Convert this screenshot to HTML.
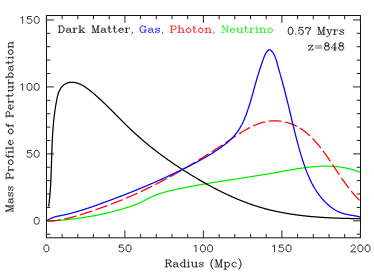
<!DOCTYPE html><html><head><meta charset="utf-8"><style>html,body{margin:0;padding:0;background:#fff}svg{display:block}</style></head><body><svg width="374" height="278" viewBox="0 0 374 278">
<rect width="374" height="278" fill="#fff"/>
<rect x="46.50" y="15.50" width="314.00" height="222.30" fill="none" stroke="#111" stroke-width="1"/>
<path d="M46.40 237.80 v-7.40M46.40 15.50 v7.40M62.10 237.80 v-3.80M62.10 15.50 v3.80M77.80 237.80 v-3.80M77.80 15.50 v3.80M93.50 237.80 v-3.80M93.50 15.50 v3.80M109.20 237.80 v-3.80M109.20 15.50 v3.80M124.90 237.80 v-7.40M124.90 15.50 v7.40M140.60 237.80 v-3.80M140.60 15.50 v3.80M156.30 237.80 v-3.80M156.30 15.50 v3.80M172.00 237.80 v-3.80M172.00 15.50 v3.80M187.70 237.80 v-3.80M187.70 15.50 v3.80M203.40 237.80 v-7.40M203.40 15.50 v7.40M219.10 237.80 v-3.80M219.10 15.50 v3.80M234.80 237.80 v-3.80M234.80 15.50 v3.80M250.50 237.80 v-3.80M250.50 15.50 v3.80M266.20 237.80 v-3.80M266.20 15.50 v3.80M281.90 237.80 v-7.40M281.90 15.50 v7.40M297.60 237.80 v-3.80M297.60 15.50 v3.80M313.30 237.80 v-3.80M313.30 15.50 v3.80M329.00 237.80 v-3.80M329.00 15.50 v3.80M344.70 237.80 v-3.80M344.70 15.50 v3.80M360.40 237.80 v-7.40M360.40 15.50 v7.40M46.50 234.19 h3.80M360.50 234.19 h-3.80M46.50 220.80 h7.40M360.50 220.80 h-7.40M46.50 207.41 h3.80M360.50 207.41 h-3.80M46.50 194.02 h3.80M360.50 194.02 h-3.80M46.50 180.63 h3.80M360.50 180.63 h-3.80M46.50 167.24 h3.80M360.50 167.24 h-3.80M46.50 153.85 h7.40M360.50 153.85 h-7.40M46.50 140.46 h3.80M360.50 140.46 h-3.80M46.50 127.07 h3.80M360.50 127.07 h-3.80M46.50 113.68 h3.80M360.50 113.68 h-3.80M46.50 100.29 h3.80M360.50 100.29 h-3.80M46.50 86.90 h7.40M360.50 86.90 h-7.40M46.50 73.51 h3.80M360.50 73.51 h-3.80M46.50 60.12 h3.80M360.50 60.12 h-3.80M46.50 46.73 h3.80M360.50 46.73 h-3.80M46.50 33.34 h3.80M360.50 33.34 h-3.80M46.50 19.95 h7.40M360.50 19.95 h-7.40" stroke="#222" stroke-width="1" fill="none"/>
<path d="M46.75 221.23L47.25 221.20L47.76 221.18L48.26 221.15L48.76 221.12L49.27 221.09L49.77 221.06L50.27 221.03L50.78 221.00L51.28 220.97L51.78 220.93L52.28 220.90L52.79 220.87L53.29 220.83L53.79 220.80L54.29 220.76L54.79 220.73L55.30 220.69L55.80 220.65L56.30 220.62L56.80 220.58L57.30 220.54L57.80 220.50L58.30 220.46L58.80 220.42L59.30 220.38L59.80 220.33L60.30 220.29L60.80 220.25L61.30 220.20L61.80 220.16L62.30 220.11L62.80 220.07L63.30 220.02L63.80 219.97L64.30 219.92L64.80 219.88L65.30 219.83L65.79 219.78L66.29 219.73L66.79 219.67L67.29 219.62L67.78 219.57L68.28 219.52L68.78 219.46L69.28 219.41L69.77 219.35L70.27 219.30L70.77 219.24L71.26 219.18L71.76 219.13L72.25 219.07L72.75 219.01L73.25 218.95L73.74 218.89L74.24 218.83L74.73 218.76L75.23 218.70L75.72 218.64L76.22 218.57L76.71 218.51L77.21 218.44L77.70 218.38L78.19 218.31L78.69 218.24L79.18 218.17L79.67 218.10L80.17 218.03L80.66 217.96L81.15 217.89L81.64 217.82L82.14 217.75L82.63 217.67L83.12 217.60L83.61 217.53L84.10 217.45L84.60 217.37L85.09 217.30L85.58 217.22L86.07 217.14L86.56 217.06L87.05 216.98L87.54 216.90L88.03 216.82L88.52 216.74L89.01 216.65L89.50 216.57L89.99 216.49L90.48 216.40L90.97 216.31L91.46 216.23L91.94 216.14L92.43 216.05L92.92 215.96L93.41 215.87L93.90 215.78L94.38 215.69L94.87 215.60L95.36 215.51L95.85 215.41L96.33 215.32L96.82 215.22L97.31 215.13L97.79 215.03L98.28 214.93L98.76 214.84L99.25 214.74L99.73 214.64L100.22 214.54L100.70 214.43L101.19 214.33L101.67 214.23L102.16 214.12L102.64 214.02L103.13 213.91L103.61 213.81L104.09 213.70L104.58 213.59L105.06 213.48L105.54 213.38L106.02 213.27L106.51 213.15L106.99 213.04L107.47 212.93L107.95 212.82L108.43 212.70L108.91 212.59L109.40 212.47L109.88 212.35L110.36 212.24L110.84 212.12L111.32 212.00L111.80 211.88L112.28 211.76L112.76 211.63L113.24 211.51L113.72 211.39L114.19 211.26L114.67 211.14L115.15 211.01L115.63 210.88L116.11 210.76L116.59 210.63L117.06 210.50L117.54 210.37L118.02 210.24L118.49 210.10L118.97 209.97L119.45 209.84L119.92 209.70L120.40 209.57L120.88 209.43L121.35 209.29L121.83 209.15L122.30 209.01L122.78 208.87L123.25 208.73L123.72 208.59L124.20 208.45L124.67 208.31L125.15 208.16L125.62 208.02L126.09 207.87L126.57 207.72L127.04 207.57L127.51 207.42L127.98 207.27L128.46 207.12L128.93 206.97L129.40 206.82L129.87 206.66L130.34 206.51L130.81 206.35L131.28 206.19L131.75 206.03L132.22 205.87L132.69 205.70L133.16 205.54L133.63 205.37L134.10 205.19L134.57 205.02L135.04 204.84L135.51 204.66L135.98 204.47L136.45 204.29L136.92 204.10L137.39 203.90L137.85 203.70L138.32 203.50L138.79 203.29L139.26 203.08L139.73 202.87L140.20 202.65L140.66 202.42L141.13 202.20L141.60 201.97L142.07 201.73L142.53 201.50L143.00 201.26L143.47 201.02L143.94 200.78L144.40 200.54L144.87 200.29L145.34 200.05L145.81 199.80L146.27 199.56L146.74 199.32L147.21 199.07L147.68 198.83L148.14 198.59L148.61 198.35L149.08 198.12L149.55 197.88L150.02 197.65L150.48 197.42L150.95 197.20L151.42 196.98L151.89 196.76L152.36 196.55L152.82 196.34L153.29 196.13L153.76 195.93L154.23 195.74L154.70 195.54L155.17 195.35L155.63 195.17L156.10 194.99L156.57 194.81L157.04 194.63L157.51 194.46L157.98 194.29L158.45 194.13L158.92 193.96L159.39 193.80L159.86 193.65L160.33 193.49L160.80 193.34L161.27 193.20L161.74 193.05L162.21 192.91L162.68 192.77L163.15 192.63L163.62 192.49L164.09 192.36L164.56 192.23L165.04 192.10L165.51 191.97L165.98 191.84L166.45 191.72L166.92 191.60L167.40 191.47L167.87 191.36L168.34 191.24L168.82 191.12L169.29 191.01L169.76 190.89L170.24 190.78L170.71 190.67L171.18 190.56L171.66 190.45L172.13 190.34L172.61 190.23L173.08 190.13L173.56 190.02L174.03 189.91L174.51 189.81L174.98 189.70L175.46 189.60L175.94 189.49L176.41 189.39L176.89 189.29L177.37 189.18L177.85 189.08L178.32 188.98L178.80 188.88L179.28 188.78L179.76 188.68L180.24 188.57L180.71 188.48L181.19 188.38L181.67 188.28L182.15 188.18L182.63 188.08L183.11 187.98L183.59 187.88L184.07 187.79L184.55 187.69L185.03 187.60L185.51 187.50L185.99 187.40L186.48 187.31L186.96 187.21L187.44 187.12L187.92 187.03L188.40 186.93L188.89 186.84L189.37 186.75L189.85 186.65L190.33 186.56L190.82 186.47L191.30 186.38L191.78 186.29L192.27 186.20L192.75 186.11L193.24 186.02L193.72 185.93L194.20 185.84L194.69 185.75L195.17 185.66L195.66 185.57L196.14 185.48L196.63 185.40L197.12 185.31L197.60 185.22L198.09 185.13L198.57 185.05L199.06 184.96L199.55 184.87L200.03 184.79L200.52 184.70L201.01 184.62L201.49 184.53L201.98 184.45L202.47 184.36L202.96 184.28L203.45 184.19L203.93 184.11L204.42 184.03L204.91 183.94L205.40 183.86L205.89 183.78L206.38 183.70L206.87 183.61L207.35 183.53L207.84 183.45L208.33 183.37L208.82 183.28L209.31 183.20L209.80 183.12L210.29 183.04L210.78 182.96L211.27 182.88L211.76 182.80L212.25 182.72L212.75 182.64L213.24 182.56L213.73 182.48L214.22 182.40L214.71 182.32L215.20 182.24L215.69 182.16L216.19 182.08L216.68 182.00L217.17 181.92L217.66 181.85L218.15 181.77L218.65 181.69L219.14 181.61L219.63 181.53L220.12 181.45L220.62 181.38L221.11 181.30L221.60 181.22L222.10 181.14L222.59 181.07L223.08 180.99L223.58 180.91L224.07 180.83L224.57 180.76L225.06 180.68L225.55 180.60L226.05 180.53L226.54 180.45L227.04 180.37L227.53 180.30L228.03 180.22L228.52 180.14L229.02 180.07L229.51 179.99L230.01 179.91L230.50 179.84L231.00 179.76L231.49 179.68L231.99 179.61L232.48 179.53L232.98 179.45L233.47 179.38L233.97 179.30L234.47 179.23L234.96 179.15L235.46 179.07L235.95 179.00L236.45 178.92L236.95 178.84L237.44 178.77L237.94 178.69L238.44 178.61L238.93 178.54L239.43 178.46L239.93 178.39L240.42 178.31L240.92 178.23L241.42 178.16L241.92 178.08L242.41 178.00L242.91 177.93L243.41 177.85L243.90 177.77L244.40 177.69L244.90 177.62L245.40 177.54L245.90 177.46L246.39 177.39L246.89 177.31L247.39 177.23L247.89 177.15L248.38 177.08L248.88 177.00L249.38 176.92L249.88 176.84L250.38 176.76L250.88 176.68L251.37 176.61L251.87 176.53L252.37 176.45L252.87 176.37L253.37 176.29L253.87 176.21L254.36 176.13L254.86 176.05L255.36 175.97L255.86 175.89L256.36 175.81L256.86 175.73L257.36 175.65L257.86 175.57L258.35 175.49L258.85 175.41L259.35 175.33L259.85 175.25L260.35 175.17L260.85 175.09L261.35 175.01L261.85 174.92L262.35 174.84L262.85 174.76L263.34 174.68L263.84 174.59L264.34 174.51L264.84 174.43L265.34 174.34L265.84 174.26L266.34 174.18L266.84 174.09L267.34 174.01L267.84 173.92L268.34 173.84L268.84 173.75L269.34 173.67L269.83 173.58L270.33 173.49L270.83 173.41L271.33 173.32L271.83 173.24L272.33 173.15L272.83 173.06L273.33 172.97L273.83 172.88L274.33 172.80L274.83 172.71L275.33 172.62L275.83 172.53L276.32 172.44L276.82 172.35L277.32 172.26L277.82 172.17L278.32 172.08L278.82 171.99L279.32 171.90L279.82 171.81L280.32 171.72L280.82 171.63L281.32 171.54L281.81 171.45L282.31 171.36L282.81 171.27L283.31 171.18L283.81 171.09L284.31 171.00L284.81 170.91L285.31 170.82L285.81 170.73L286.30 170.64L286.80 170.55L287.30 170.46L287.80 170.37L288.30 170.29L288.80 170.20L289.30 170.11L289.79 170.02L290.29 169.94L290.79 169.85L291.29 169.77L291.79 169.68L292.29 169.60L292.78 169.51L293.28 169.43L293.78 169.34L294.28 169.26L294.78 169.18L295.27 169.10L295.77 169.02L296.27 168.94L296.77 168.86L297.26 168.78L297.76 168.70L298.26 168.62L298.76 168.55L299.25 168.47L299.75 168.39L300.25 168.32L300.75 168.25L301.24 168.17L301.74 168.10L302.24 168.03L302.73 167.96L303.23 167.89L303.73 167.82L304.22 167.76L304.72 167.69L305.22 167.63L305.71 167.56L306.21 167.50L306.71 167.44L307.20 167.38L307.70 167.32L308.19 167.26L308.69 167.20L309.19 167.15L309.68 167.09L310.18 167.04L310.67 166.99L311.17 166.94L311.66 166.89L312.16 166.84L312.65 166.79L313.15 166.75L313.64 166.70L314.14 166.66L314.63 166.62L315.13 166.58L315.62 166.54L316.12 166.51L316.61 166.47L317.10 166.44L317.60 166.41L318.09 166.38L318.59 166.35L319.08 166.32L319.57 166.30L320.07 166.27L320.56 166.25L321.05 166.23L321.55 166.21L322.04 166.20L322.53 166.18L323.02 166.17L323.52 166.16L324.01 166.15L324.50 166.14L324.99 166.14L325.49 166.13L325.98 166.13L326.47 166.13L326.96 166.14L327.45 166.14L327.94 166.15L328.43 166.15L328.93 166.17L329.42 166.18L329.91 166.19L330.40 166.21L330.89 166.23L331.38 166.25L331.87 166.28L332.36 166.30L332.85 166.33L333.34 166.36L333.83 166.39L334.32 166.43L334.81 166.47L335.30 166.51L335.79 166.55L336.27 166.59L336.76 166.64L337.25 166.69L337.74 166.74L338.23 166.80L338.72 166.85L339.20 166.91L339.69 166.97L340.18 167.04L340.67 167.11L341.15 167.18L341.64 167.25L342.13 167.32L342.61 167.40L343.10 167.48L343.59 167.57L344.07 167.65L344.56 167.74L345.04 167.83L345.53 167.93L346.02 168.02L346.50 168.13L346.99 168.23L347.47 168.33L347.95 168.44L348.44 168.56L348.92 168.67L349.41 168.79L349.89 168.91L350.37 169.03L350.86 169.16L351.34 169.29L351.82 169.42L352.31 169.56L352.79 169.70L353.27 169.84L353.76 169.99L354.24 170.14L354.72 170.29L355.20 170.45L355.68 170.61L356.16 170.77L356.64 170.93L357.13 171.10L357.61 171.27L358.09 171.45L358.57 171.63L359.05 171.81L359.53 172.00L360.01 172.19" stroke="#00ee00" stroke-width="1.25" fill="none" stroke-linejoin="round"/>
<path d="M46.76 221.09L47.27 221.10L47.77 221.09L48.27 221.09L48.77 221.08L49.27 221.06L49.77 221.05L50.27 221.02L50.77 221.00L51.27 220.97L51.77 220.94L52.27 220.90L52.77 220.87L53.27 220.82L53.77 220.78L54.27 220.73L54.76 220.68L55.26 220.62L55.76 220.56L56.25 220.50L56.75 220.44L57.25 220.37L57.74 220.30L58.24 220.23L58.73 220.15L59.23 220.07L59.72 219.99L60.21 219.90L60.71 219.82L61.20 219.73L61.70 219.64L62.19 219.54L62.68 219.44L63.17 219.35L63.66 219.24L64.16 219.14L64.65 219.03L65.14 218.93L65.63 218.82L66.12 218.70L66.61 218.59L67.10 218.47L67.59 218.36L68.08 218.24L68.56 218.11L69.05 217.99L69.54 217.86L70.03 217.74L70.52 217.61L71.00 217.48L71.49 217.35L71.98 217.22L72.46 217.08L72.95 216.95L73.43 216.81L73.92 216.67L74.41 216.53L74.89 216.39L75.37 216.25L75.86 216.11L76.34 215.96L76.83 215.82L77.31 215.68L77.79 215.53L78.28 215.38L78.76 215.24L79.24 215.09L79.72 214.94L80.20 214.79L80.68 214.64L81.17 214.49L81.65 214.34L82.13 214.19L82.61 214.04L83.09 213.89L83.57 213.73L84.04 213.58L84.52 213.43L85.00 213.28L85.48 213.12L85.96 212.97L86.44 212.81L86.91 212.66L87.39 212.51L87.87 212.35L88.35 212.19L88.82 212.04L89.30 211.88L89.77 211.73L90.25 211.57L90.72 211.41L91.20 211.25L91.67 211.10L92.15 210.94L92.62 210.78L93.10 210.62L93.57 210.46L94.04 210.30L94.52 210.14L94.99 209.98L95.46 209.82L95.94 209.65L96.41 209.49L96.88 209.33L97.35 209.17L97.82 209.00L98.29 208.84L98.76 208.67L99.23 208.51L99.70 208.35L100.17 208.18L100.64 208.01L101.11 207.85L101.58 207.68L102.05 207.51L102.52 207.35L102.99 207.18L103.46 207.01L103.93 206.84L104.39 206.67L104.86 206.50L105.33 206.33L105.79 206.16L106.26 205.99L106.73 205.82L107.19 205.65L107.66 205.47L108.12 205.30L108.59 205.13L109.06 204.95L109.52 204.78L109.98 204.60L110.45 204.43L110.91 204.25L111.38 204.08L111.84 203.90L112.30 203.72L112.77 203.54L113.23 203.37L113.69 203.19L114.16 203.01L114.62 202.83L115.08 202.65L115.54 202.47L116.00 202.29L116.46 202.11L116.93 201.92L117.39 201.74L117.85 201.56L118.31 201.37L118.77 201.19L119.23 201.01L119.69 200.82L120.15 200.63L120.61 200.45L121.06 200.26L121.52 200.08L121.98 199.89L122.44 199.70L122.90 199.51L123.36 199.32L123.81 199.13L124.27 198.94L124.73 198.75L125.18 198.56L125.64 198.37L126.10 198.18L126.55 197.98L127.01 197.79L127.47 197.59L127.92 197.40L128.38 197.21L128.83 197.01L129.29 196.81L129.74 196.62L130.20 196.42L130.65 196.22L131.10 196.02L131.56 195.82L132.01 195.62L132.47 195.42L132.92 195.22L133.37 195.02L133.82 194.82L134.28 194.62L134.73 194.42L135.18 194.21L135.63 194.01L136.08 193.81L136.54 193.60L136.99 193.40L137.44 193.19L137.89 192.98L138.34 192.78L138.79 192.57L139.24 192.36L139.69 192.15L140.14 191.94L140.59 191.74L141.04 191.53L141.49 191.31L141.94 191.10L142.39 190.89L142.84 190.68L143.28 190.47L143.73 190.26L144.18 190.04L144.63 189.83L145.08 189.61L145.52 189.40L145.97 189.18L146.42 188.97L146.87 188.75L147.31 188.53L147.76 188.32L148.21 188.10L148.65 187.88L149.10 187.66L149.54 187.44L149.99 187.22L150.43 187.00L150.88 186.78L151.32 186.56L151.77 186.34L152.21 186.12L152.66 185.89L153.10 185.67L153.55 185.45L153.99 185.22L154.44 185.00L154.88 184.77L155.32 184.55L155.77 184.32L156.21 184.09L156.65 183.87L157.09 183.64L157.54 183.41L157.98 183.18L158.42 182.96L158.86 182.73L159.31 182.50L159.75 182.27L160.19 182.04L160.63 181.81L161.07 181.57L161.51 181.34L161.95 181.11L162.39 180.88L162.83 180.64L163.27 180.41L163.72 180.18L164.16 179.94L164.59 179.71L165.03 179.47L165.47 179.24L165.91 179.00L166.35 178.76L166.79 178.53L167.23 178.29L167.67 178.05L168.11 177.81L168.55 177.57L168.98 177.33L169.42 177.10L169.86 176.86L170.30 176.61L170.74 176.37L171.17 176.13L171.61 175.89L172.05 175.65L172.49 175.41L172.92 175.16L173.36 174.92L173.80 174.68L174.23 174.43L174.67 174.19L175.10 173.94L175.54 173.70L175.98 173.45L176.41 173.21L176.85 172.96L177.28 172.71L177.72 172.47L178.15 172.22L178.59 171.97L179.02 171.72L179.46 171.47L179.89 171.22L180.33 170.97L180.76 170.72L181.20 170.47L181.63 170.22L182.06 169.97L182.50 169.72L182.93 169.47L183.36 169.22L183.80 168.96L184.23 168.71L184.66 168.46L185.10 168.20L185.53 167.95L185.96 167.70L186.40 167.44L186.83 167.19L187.26 166.93L187.69 166.67L188.12 166.42L188.56 166.16L188.99 165.90L189.42 165.65L189.85 165.39L190.28 165.13L190.71 164.87L191.15 164.62L191.58 164.36L192.01 164.10L192.44 163.84L192.87 163.58L193.30 163.32L193.73 163.06L194.16 162.80L194.59 162.53L195.02 162.27L195.45 162.01L195.88 161.75L196.31 161.48L196.74 161.22L197.17 160.96L197.60 160.69L198.03 160.43L198.46 160.17L198.89 159.90L199.32 159.64L199.74 159.37L200.17 159.11L200.60 158.84L201.03 158.57L201.46 158.31L201.89 158.04L202.32 157.77L202.74 157.51L203.17 157.24L203.60 156.97L204.03 156.70L204.46 156.43L204.88 156.16L205.31 155.90L205.74 155.63L206.17 155.36L206.59 155.09L207.02 154.82L207.45 154.54L207.87 154.27L208.30 154.00L208.73 153.73L209.15 153.46L209.58 153.19L210.01 152.91L210.43 152.64L210.86 152.37L211.29 152.09L211.71 151.82L212.14 151.55L212.56 151.27L212.99 151.00L213.42 150.72L213.84 150.45L214.27 150.17L214.69 149.90L215.12 149.62L215.54 149.35L215.97 149.07L216.40 148.79L216.82 148.52L217.25 148.24L217.67 147.96L218.10 147.69L218.52 147.41L218.94 147.13L219.37 146.85L219.79 146.57L220.22 146.29L220.64 146.01L221.07 145.74L221.49 145.46L221.92 145.18L222.34 144.90L222.76 144.62L223.19 144.34L223.61 144.05L224.04 143.77L224.46 143.49L224.88 143.21L225.31 142.93L225.73 142.65L226.15 142.37L226.58 142.08L227.00 141.80L227.42 141.52L227.85 141.23L228.27 140.95L228.69 140.67L229.12 140.38L229.54 140.10L229.96 139.82L230.39 139.53L230.81 139.25L231.23 138.97L231.66 138.68L232.08 138.40L232.50 138.12L232.93 137.83L233.35 137.55L233.77 137.27L234.20 136.99L234.62 136.71L235.04 136.43L235.47 136.15L235.89 135.87L236.32 135.59L236.74 135.32L237.17 135.04L237.59 134.77L238.02 134.49L238.44 134.22L238.87 133.95L239.29 133.68L239.72 133.41L240.15 133.14L240.57 132.87L241.00 132.61L241.43 132.34L241.85 132.08L242.28 131.82L242.71 131.56L243.14 131.31L243.57 131.05L244.00 130.80L244.43 130.54L244.86 130.29L245.29 130.05L245.72 129.80L246.15 129.56L246.58 129.31L247.02 129.07L247.45 128.84L247.88 128.60L248.32 128.37L248.75 128.14L249.19 127.91L249.63 127.68L250.06 127.46L250.50 127.24L250.94 127.02L251.37 126.81L251.81 126.60L252.25 126.39L252.69 126.18L253.13 125.98L253.58 125.78L254.02 125.58L254.46 125.39L254.91 125.20L255.35 125.01L255.80 124.83L256.24 124.64L256.69 124.47L257.14 124.29L257.58 124.12L258.03 123.96L258.48 123.79L258.93 123.63L259.39 123.48L259.84 123.32L260.29 123.18L260.75 123.03L261.20 122.89L261.66 122.76L262.11 122.62L262.57 122.50L263.03 122.37L263.49 122.25L263.95 122.14L264.41 122.03L264.88 121.92L265.34 121.82L265.81 121.72L266.27 121.63L266.74 121.54L267.21 121.45L267.68 121.37L268.15 121.30L268.62 121.23L269.09 121.17L269.56 121.11L270.04 121.05L270.51 121.00L270.99 120.96L271.47 120.92L271.95 120.89L272.43 120.86L272.91 120.84L273.39 120.82L273.88 120.81L274.36 120.80L274.85 120.80L275.34 120.80L275.83 120.81L276.32 120.83L276.81 120.85L277.30 120.88L277.80 120.91L278.29 120.95L278.79 121.00L279.29 121.05L279.79 121.10L280.29 121.17L280.79 121.24L281.29 121.31L281.79 121.39L282.29 121.47L282.79 121.56L283.29 121.66L283.80 121.76L284.30 121.87L284.80 121.98L285.30 122.09L285.80 122.22L286.30 122.34L286.80 122.48L287.30 122.61L287.79 122.76L288.29 122.90L288.78 123.06L289.28 123.21L289.77 123.38L290.26 123.54L290.75 123.72L291.23 123.89L291.72 124.07L292.20 124.26L292.68 124.45L293.16 124.65L293.63 124.85L294.11 125.05L294.58 125.26L295.04 125.47L295.51 125.69L295.97 125.91L296.43 126.14L296.89 126.37L297.34 126.60L297.79 126.84L298.23 127.08L298.67 127.33L299.11 127.58L299.54 127.84L299.97 128.10L300.40 128.36L300.82 128.62L301.24 128.90L301.65 129.17L302.06 129.45L302.47 129.73L302.87 130.01L303.27 130.30L303.67 130.59L304.06 130.89L304.45 131.18L304.84 131.48L305.22 131.79L305.60 132.09L305.98 132.40L306.36 132.72L306.73 133.03L307.10 133.35L307.47 133.67L307.84 133.99L308.20 134.32L308.56 134.64L308.92 134.97L309.28 135.30L309.64 135.64L309.99 135.98L310.35 136.31L310.70 136.65L311.05 137.00L311.40 137.34L311.75 137.69L312.09 138.04L312.44 138.39L312.78 138.74L313.12 139.10L313.46 139.45L313.79 139.81L314.13 140.17L314.46 140.53L314.80 140.90L315.13 141.26L315.46 141.63L315.79 142.00L316.12 142.37L316.44 142.74L316.77 143.12L317.09 143.49L317.41 143.87L317.73 144.25L318.05 144.63L318.37 145.01L318.69 145.40L319.00 145.78L319.32 146.17L319.63 146.56L319.94 146.95L320.25 147.34L320.57 147.73L320.87 148.12L321.18 148.52L321.49 148.91L321.80 149.31L322.10 149.71L322.40 150.11L322.71 150.51L323.01 150.91L323.31 151.31L323.61 151.72L323.91 152.12L324.21 152.53L324.51 152.93L324.80 153.34L325.10 153.75L325.40 154.16L325.69 154.57L325.99 154.98L326.28 155.39L326.57 155.81L326.86 156.22L327.15 156.63L327.45 157.05L327.74 157.47L328.03 157.88L328.31 158.30L328.60 158.72L328.89 159.14L329.18 159.56L329.47 159.98L329.75 160.40L330.04 160.82L330.32 161.24L330.61 161.66L330.89 162.08L331.18 162.50L331.46 162.93L331.75 163.35L332.03 163.77L332.31 164.20L332.60 164.62L332.88 165.04L333.16 165.47L333.45 165.89L333.73 166.32L334.01 166.74L334.29 167.17L334.57 167.59L334.86 168.02L335.14 168.44L335.42 168.87L335.70 169.29L335.98 169.71L336.26 170.14L336.55 170.56L336.83 170.99L337.11 171.41L337.39 171.84L337.67 172.26L337.96 172.68L338.24 173.11L338.52 173.53L338.81 173.95L339.09 174.37L339.37 174.80L339.66 175.22L339.94 175.64L340.22 176.06L340.51 176.48L340.79 176.90L341.08 177.32L341.36 177.74L341.65 178.15L341.94 178.57L342.22 178.99L342.51 179.40L342.80 179.82L343.09 180.23L343.38 180.65L343.67 181.06L343.96 181.47L344.25 181.88L344.54 182.29L344.83 182.70L345.12 183.11L345.41 183.52L345.71 183.93L346.00 184.33L346.30 184.74L346.60 185.14L346.89 185.54L347.19 185.94L347.49 186.34L347.79 186.74L348.09 187.14L348.39 187.54L348.69 187.93L348.99 188.33L349.30 188.72L349.60 189.11L349.91 189.50L350.22 189.89L350.52 190.28L350.83 190.66L351.14 191.05L351.45 191.43L351.77 191.81L352.08 192.19L352.39 192.57L352.71 192.95L353.03 193.33L353.34 193.70L353.66 194.07L353.98 194.44L354.31 194.81L354.63 195.18L354.95 195.54L355.28 195.91L355.61 196.27L355.93 196.63L356.26 196.99L356.60 197.34L356.93 197.70L357.26 198.05L357.60 198.40L357.94 198.75L358.27 199.09L358.61 199.44L358.96 199.78L359.30 200.12L359.64 200.46L359.99 200.79" stroke="#ff0000" stroke-width="1.25" fill="none" stroke-dasharray="12.7 3.6" stroke-dashoffset="-1.3" stroke-linejoin="round"/>
<path d="M48.67 206.51L48.74 206.00L48.80 205.50L48.86 204.99L48.92 204.48L48.99 203.98L49.04 203.47L49.10 202.97L49.16 202.46L49.22 201.95L49.27 201.45L49.32 200.94L49.38 200.44L49.43 199.93L49.48 199.43L49.53 198.93L49.58 198.42L49.63 197.92L49.68 197.42L49.72 196.91L49.77 196.41L49.81 195.91L49.86 195.40L49.90 194.90L49.95 194.40L49.99 193.90L50.03 193.39L50.07 192.89L50.11 192.39L50.15 191.89L50.18 191.39L50.22 190.89L50.26 190.39L50.29 189.89L50.33 189.39L50.36 188.89L50.40 188.39L50.43 187.89L50.46 187.39L50.50 186.89L50.53 186.39L50.56 185.89L50.59 185.39L50.62 184.89L50.65 184.39L50.67 183.89L50.70 183.39L50.73 182.89L50.76 182.40L50.78 181.90L50.81 181.40L50.83 180.90L50.86 180.40L50.88 179.91L50.91 179.41L50.93 178.91L50.95 178.41L50.97 177.92L51.00 177.42L51.02 176.92L51.04 176.43L51.06 175.93L51.08 175.43L51.10 174.94L51.12 174.44L51.14 173.94L51.16 173.45L51.18 172.95L51.20 172.45L51.21 171.96L51.23 171.46L51.25 170.97L51.27 170.47L51.28 169.98L51.30 169.48L51.32 168.98L51.33 168.49L51.35 167.99L51.37 167.50L51.38 167.00L51.40 166.51L51.41 166.01L51.43 165.52L51.44 165.02L51.46 164.53L51.47 164.03L51.49 163.54L51.50 163.05L51.52 162.55L51.53 162.06L51.55 161.56L51.56 161.07L51.58 160.57L51.59 160.08L51.61 159.58L51.62 159.09L51.64 158.60L51.65 158.10L51.67 157.61L51.68 157.11L51.70 156.62L51.71 156.13L51.73 155.63L51.74 155.14L51.76 154.64L51.77 154.15L51.79 153.66L51.80 153.16L51.82 152.67L51.83 152.17L51.85 151.68L51.87 151.19L51.88 150.69L51.90 150.20L51.92 149.70L51.93 149.21L51.95 148.72L51.97 148.22L51.99 147.73L52.01 147.23L52.03 146.74L52.04 146.25L52.06 145.75L52.08 145.26L52.10 144.76L52.12 144.27L52.14 143.78L52.16 143.28L52.19 142.79L52.21 142.29L52.23 141.80L52.25 141.31L52.28 140.81L52.30 140.32L52.32 139.82L52.35 139.33L52.37 138.83L52.40 138.34L52.42 137.84L52.45 137.35L52.48 136.86L52.51 136.36L52.53 135.87L52.56 135.37L52.59 134.88L52.62 134.38L52.65 133.89L52.68 133.39L52.71 132.90L52.75 132.40L52.78 131.90L52.81 131.41L52.85 130.91L52.88 130.42L52.92 129.92L52.95 129.43L52.99 128.93L53.03 128.43L53.07 127.94L53.11 127.44L53.15 126.95L53.19 126.45L53.23 125.95L53.27 125.46L53.31 124.96L53.36 124.46L53.40 123.97L53.45 123.47L53.49 122.97L53.54 122.47L53.59 121.98L53.64 121.48L53.69 120.98L53.74 120.48L53.79 119.99L53.84 119.49L53.90 118.99L53.95 118.49L54.01 117.99L54.06 117.49L54.12 116.99L54.18 116.50L54.24 116.00L54.30 115.50L54.36 115.00L54.43 114.50L54.49 114.00L54.55 113.50L54.62 113.00L54.69 112.50L54.75 112.00L54.82 111.50L54.89 111.00L54.97 110.50L55.04 110.00L55.11 109.49L55.19 108.99L55.26 108.49L55.34 107.99L55.42 107.49L55.50 106.99L55.58 106.48L55.66 105.98L55.75 105.48L55.83 104.98L55.92 104.47L56.00 103.97L56.09 103.47L56.18 102.96L56.27 102.46L56.37 101.95L56.46 101.45L56.56 100.94L56.65 100.44L56.75 99.94L56.85 99.43L56.95 98.92L57.05 98.42L57.16 97.92L57.27 97.41L57.38 96.91L57.50 96.41L57.62 95.91L57.75 95.41L57.88 94.92L58.02 94.43L58.16 93.94L58.31 93.46L58.47 92.98L58.64 92.51L58.82 92.04L59.01 91.57L59.20 91.11L59.41 90.66L59.63 90.21L59.86 89.77L60.10 89.34L60.35 88.91L60.62 88.49L60.90 88.08L61.19 87.68L61.50 87.28L61.83 86.90L62.16 86.52L62.52 86.16L62.88 85.80L63.26 85.46L63.65 85.13L64.05 84.82L64.46 84.52L64.88 84.24L65.31 83.97L65.74 83.72L66.19 83.49L66.64 83.28L67.09 83.09L67.55 82.92L68.02 82.77L68.49 82.64L68.96 82.54L69.43 82.45L69.90 82.39L70.38 82.34L70.85 82.30L71.32 82.28L71.79 82.28L72.26 82.28L72.73 82.30L73.20 82.33L73.66 82.38L74.13 82.44L74.59 82.50L75.05 82.59L75.51 82.68L75.97 82.78L76.42 82.90L76.88 83.02L77.33 83.16L77.78 83.30L78.23 83.46L78.68 83.62L79.13 83.80L79.58 83.98L80.02 84.18L80.47 84.38L80.91 84.59L81.35 84.81L81.79 85.03L82.23 85.26L82.67 85.50L83.10 85.75L83.54 86.01L83.97 86.27L84.40 86.54L84.83 86.81L85.26 87.09L85.69 87.37L86.11 87.66L86.54 87.96L86.96 88.26L87.38 88.56L87.80 88.87L88.22 89.18L88.64 89.50L89.05 89.81L89.47 90.14L89.88 90.46L90.29 90.79L90.70 91.12L91.11 91.45L91.52 91.78L91.92 92.12L92.33 92.46L92.73 92.79L93.13 93.13L93.53 93.47L93.93 93.81L94.33 94.15L94.72 94.49L95.12 94.83L95.51 95.18L95.90 95.52L96.29 95.86L96.68 96.21L97.07 96.55L97.46 96.89L97.84 97.24L98.23 97.58L98.61 97.93L98.99 98.28L99.37 98.62L99.75 98.97L100.13 99.32L100.51 99.67L100.89 100.01L101.26 100.36L101.64 100.71L102.01 101.06L102.38 101.41L102.76 101.76L103.13 102.11L103.50 102.46L103.87 102.81L104.23 103.16L104.60 103.52L104.97 103.87L105.33 104.22L105.70 104.57L106.06 104.92L106.42 105.28L106.79 105.63L107.15 105.98L107.51 106.33L107.87 106.69L108.23 107.04L108.59 107.40L108.95 107.75L109.31 108.10L109.66 108.46L110.02 108.81L110.37 109.16L110.73 109.52L111.09 109.87L111.44 110.23L111.79 110.58L112.15 110.94L112.50 111.29L112.85 111.64L113.21 112.00L113.56 112.35L113.91 112.71L114.26 113.06L114.61 113.42L114.96 113.77L115.31 114.12L115.66 114.48L116.01 114.83L116.36 115.18L116.71 115.54L117.06 115.89L117.41 116.24L117.76 116.60L118.10 116.95L118.45 117.30L118.80 117.66L119.15 118.01L119.50 118.36L119.85 118.71L120.19 119.06L120.54 119.41L120.89 119.76L121.24 120.12L121.59 120.47L121.93 120.82L122.28 121.17L122.63 121.51L122.98 121.86L123.33 122.21L123.68 122.56L124.03 122.91L124.38 123.26L124.73 123.60L125.08 123.95L125.43 124.30L125.78 124.64L126.13 124.99L126.48 125.33L126.83 125.68L127.18 126.02L127.53 126.37L127.88 126.71L128.24 127.05L128.59 127.39L128.94 127.73L129.30 128.08L129.65 128.42L130.01 128.76L130.36 129.09L130.72 129.43L131.08 129.77L131.43 130.11L131.79 130.45L132.15 130.78L132.51 131.12L132.87 131.45L133.23 131.79L133.59 132.12L133.95 132.45L134.31 132.79L134.68 133.12L135.04 133.45L135.40 133.78L135.77 134.11L136.13 134.44L136.50 134.77L136.86 135.10L137.23 135.43L137.59 135.75L137.96 136.08L138.33 136.41L138.70 136.73L139.07 137.06L139.43 137.38L139.80 137.71L140.17 138.03L140.55 138.35L140.92 138.67L141.29 139.00L141.66 139.32L142.03 139.64L142.41 139.96L142.78 140.28L143.16 140.60L143.53 140.91L143.91 141.23L144.28 141.55L144.66 141.87L145.04 142.18L145.41 142.50L145.79 142.81L146.17 143.13L146.55 143.44L146.93 143.75L147.31 144.07L147.69 144.38L148.07 144.69L148.45 145.00L148.83 145.31L149.22 145.62L149.60 145.93L149.98 146.24L150.37 146.55L150.75 146.86L151.14 147.17L151.52 147.47L151.91 147.78L152.30 148.09L152.68 148.39L153.07 148.70L153.46 149.00L153.85 149.30L154.24 149.61L154.63 149.91L155.02 150.21L155.41 150.51L155.80 150.81L156.19 151.12L156.58 151.42L156.97 151.72L157.37 152.01L157.76 152.31L158.15 152.61L158.55 152.91L158.94 153.21L159.34 153.50L159.73 153.80L160.13 154.09L160.53 154.39L160.93 154.68L161.32 154.98L161.72 155.27L162.12 155.57L162.52 155.86L162.92 156.15L163.32 156.44L163.72 156.73L164.12 157.02L164.52 157.31L164.92 157.60L165.33 157.89L165.73 158.18L166.13 158.47L166.54 158.76L166.94 159.05L167.34 159.33L167.75 159.62L168.15 159.91L168.56 160.19L168.97 160.48L169.37 160.76L169.78 161.04L170.19 161.33L170.60 161.61L171.01 161.89L171.42 162.18L171.82 162.46L172.23 162.74L172.65 163.02L173.06 163.30L173.47 163.58L173.88 163.86L174.29 164.14L174.70 164.42L175.12 164.70L175.53 164.97L175.94 165.25L176.36 165.53L176.77 165.80L177.19 166.08L177.60 166.36L178.02 166.63L178.44 166.90L178.85 167.18L179.27 167.45L179.69 167.73L180.11 168.00L180.53 168.27L180.95 168.54L181.36 168.81L181.78 169.09L182.20 169.36L182.63 169.63L183.05 169.90L183.47 170.17L183.89 170.43L184.31 170.70L184.74 170.97L185.16 171.24L185.58 171.51L186.01 171.77L186.43 172.04L186.86 172.31L187.28 172.57L187.71 172.84L188.13 173.10L188.56 173.37L188.99 173.63L189.41 173.89L189.84 174.16L190.27 174.42L190.70 174.68L191.13 174.94L191.55 175.21L191.98 175.47L192.41 175.73L192.84 175.99L193.28 176.25L193.71 176.51L194.14 176.77L194.57 177.03L195.00 177.28L195.44 177.54L195.87 177.80L196.30 178.06L196.74 178.31L197.17 178.57L197.60 178.83L198.04 179.08L198.47 179.34L198.91 179.59L199.35 179.85L199.78 180.10L200.22 180.35L200.66 180.61L201.09 180.86L201.53 181.11L201.97 181.36L202.41 181.61L202.85 181.86L203.29 182.11L203.73 182.36L204.17 182.61L204.61 182.86L205.05 183.11L205.49 183.36L205.93 183.60L206.37 183.85L206.82 184.10L207.26 184.34L207.70 184.59L208.15 184.83L208.59 185.07L209.03 185.32L209.48 185.56L209.92 185.80L210.37 186.04L210.81 186.28L211.26 186.52L211.71 186.76L212.15 187.00L212.60 187.24L213.05 187.48L213.49 187.71L213.94 187.95L214.39 188.19L214.84 188.42L215.29 188.66L215.74 188.89L216.19 189.12L216.64 189.35L217.09 189.59L217.54 189.82L217.99 190.05L218.44 190.28L218.89 190.51L219.34 190.73L219.80 190.96L220.25 191.19L220.70 191.41L221.15 191.64L221.61 191.86L222.06 192.09L222.52 192.31L222.97 192.53L223.43 192.75L223.88 192.97L224.34 193.19L224.79 193.41L225.25 193.63L225.71 193.85L226.16 194.07L226.62 194.28L227.08 194.50L227.53 194.71L227.99 194.92L228.45 195.14L228.91 195.35L229.37 195.56L229.83 195.77L230.29 195.98L230.75 196.19L231.21 196.40L231.67 196.60L232.13 196.81L232.59 197.01L233.05 197.22L233.51 197.42L233.97 197.62L234.44 197.82L234.90 198.02L235.36 198.22L235.82 198.42L236.29 198.62L236.75 198.81L237.22 199.01L237.68 199.21L238.14 199.40L238.61 199.59L239.07 199.78L239.54 199.97L240.00 200.16L240.47 200.35L240.94 200.54L241.40 200.73L241.87 200.91L242.34 201.10L242.80 201.28L243.27 201.46L243.74 201.65L244.21 201.83L244.68 202.01L245.15 202.19L245.61 202.36L246.08 202.54L246.55 202.72L247.02 202.89L247.49 203.06L247.96 203.23L248.43 203.41L248.90 203.58L249.38 203.74L249.85 203.91L250.32 204.08L250.79 204.24L251.26 204.41L251.73 204.57L252.21 204.73L252.68 204.90L253.15 205.06L253.63 205.21L254.10 205.37L254.57 205.53L255.05 205.68L255.52 205.84L256.00 205.99L256.47 206.14L256.95 206.29L257.42 206.44L257.90 206.59L258.37 206.74L258.85 206.88L259.33 207.03L259.80 207.17L260.28 207.31L260.76 207.45L261.23 207.59L261.71 207.73L262.19 207.87L262.67 208.00L263.15 208.14L263.62 208.27L264.10 208.40L264.58 208.53L265.06 208.66L265.54 208.79L266.02 208.92L266.50 209.05L266.98 209.17L267.46 209.30L267.94 209.42L268.42 209.54L268.90 209.66L269.38 209.78L269.86 209.90L270.35 210.02L270.83 210.14L271.31 210.25L271.79 210.37L272.27 210.48L272.76 210.59L273.24 210.71L273.72 210.82L274.21 210.93L274.69 211.03L275.17 211.14L275.66 211.25L276.14 211.35L276.62 211.46L277.11 211.56L277.59 211.66L278.08 211.76L278.56 211.86L279.05 211.96L279.53 212.06L280.02 212.16L280.51 212.25L280.99 212.35L281.48 212.44L281.96 212.53L282.45 212.63L282.94 212.72L283.42 212.81L283.91 212.90L284.40 212.99L284.89 213.07L285.37 213.16L285.86 213.24L286.35 213.33L286.84 213.41L287.33 213.50L287.82 213.58L288.30 213.66L288.79 213.74L289.28 213.82L289.77 213.90L290.26 213.97L290.75 214.05L291.24 214.13L291.73 214.20L292.22 214.28L292.71 214.35L293.20 214.42L293.69 214.49L294.18 214.56L294.67 214.63L295.17 214.70L295.66 214.77L296.15 214.84L296.64 214.90L297.13 214.97L297.62 215.04L298.12 215.10L298.61 215.16L299.10 215.23L299.59 215.29L300.09 215.35L300.58 215.41L301.07 215.47L301.56 215.53L302.06 215.59L302.55 215.64L303.04 215.70L303.54 215.76L304.03 215.81L304.53 215.87L305.02 215.92L305.51 215.97L306.01 216.02L306.50 216.08L307.00 216.13L307.49 216.18L307.99 216.23L308.48 216.28L308.98 216.32L309.47 216.37L309.97 216.42L310.47 216.46L310.96 216.51L311.46 216.55L311.95 216.60L312.45 216.64L312.95 216.69L313.44 216.73L313.94 216.77L314.44 216.81L314.93 216.85L315.43 216.89L315.93 216.93L316.42 216.97L316.92 217.01L317.42 217.05L317.92 217.08L318.41 217.12L318.91 217.16L319.41 217.19L319.91 217.23L320.40 217.26L320.90 217.29L321.40 217.33L321.90 217.36L322.40 217.39L322.90 217.42L323.39 217.45L323.89 217.48L324.39 217.51L324.89 217.54L325.39 217.57L325.89 217.60L326.39 217.63L326.89 217.66L327.39 217.68L327.89 217.71L328.39 217.74L328.89 217.76L329.39 217.79L329.89 217.81L330.39 217.84L330.89 217.86L331.39 217.89L331.89 217.91L332.39 217.93L332.89 217.95L333.39 217.98L333.89 218.00L334.39 218.02L334.89 218.04L335.39 218.06L335.89 218.08L336.39 218.10L336.89 218.12L337.40 218.14L337.90 218.16L338.40 218.17L338.90 218.19L339.40 218.21L339.90 218.23L340.40 218.24L340.91 218.26L341.41 218.27L341.91 218.29L342.41 218.31L342.91 218.32L343.41 218.34L343.92 218.35L344.42 218.36L344.92 218.38L345.42 218.39L345.92 218.41L346.43 218.42L346.93 218.43L347.43 218.44L347.93 218.46L348.44 218.47L348.94 218.48L349.44 218.49L349.94 218.50L350.45 218.52L350.95 218.53L351.45 218.54L351.96 218.55L352.46 218.56L352.96 218.57L353.46 218.58L353.97 218.59L354.47 218.60L354.97 218.61L355.48 218.62L355.98 218.63L356.48 218.63L356.99 218.64L357.49 218.65L357.99 218.66L358.50 218.67L359.00 218.68L359.50 218.68L360.01 218.69" stroke="#000" stroke-width="1.25" fill="none" stroke-linejoin="round"/>
<path d="M46.76 220.87L47.17 220.56L47.58 220.25L48.00 219.96L48.43 219.69L48.85 219.42L49.29 219.17L49.72 218.93L50.16 218.70L50.61 218.48L51.06 218.28L51.51 218.08L51.97 217.89L52.43 217.71L52.89 217.54L53.36 217.38L53.83 217.23L54.30 217.08L54.78 216.94L55.25 216.81L55.73 216.68L56.21 216.55L56.70 216.43L57.18 216.32L57.67 216.21L58.16 216.10L58.65 216.00L59.14 215.89L59.63 215.79L60.12 215.69L60.61 215.59L61.10 215.50L61.59 215.40L62.09 215.30L62.58 215.20L63.07 215.10L63.56 215.00L64.05 214.89L64.54 214.79L65.03 214.68L65.52 214.57L66.01 214.46L66.50 214.35L66.99 214.24L67.48 214.12L67.97 214.01L68.45 213.89L68.94 213.77L69.43 213.65L69.91 213.53L70.40 213.41L70.88 213.28L71.37 213.16L71.85 213.03L72.34 212.90L72.82 212.77L73.30 212.64L73.79 212.51L74.27 212.38L74.75 212.25L75.23 212.11L75.71 211.98L76.20 211.84L76.68 211.70L77.16 211.56L77.64 211.42L78.12 211.28L78.60 211.14L79.08 210.99L79.56 210.85L80.03 210.70L80.51 210.56L80.99 210.41L81.47 210.26L81.95 210.11L82.42 209.96L82.90 209.81L83.38 209.66L83.85 209.51L84.33 209.36L84.81 209.20L85.28 209.05L85.76 208.89L86.23 208.74L86.71 208.58L87.18 208.42L87.66 208.26L88.13 208.10L88.61 207.95L89.08 207.79L89.55 207.62L90.03 207.46L90.50 207.30L90.97 207.14L91.45 206.98L91.92 206.81L92.39 206.65L92.86 206.48L93.34 206.32L93.81 206.15L94.28 205.99L94.75 205.82L95.22 205.65L95.69 205.49L96.17 205.32L96.64 205.15L97.11 204.98L97.58 204.82L98.05 204.65L98.52 204.48L98.99 204.31L99.46 204.14L99.93 203.97L100.40 203.80L100.87 203.63L101.34 203.46L101.81 203.29L102.28 203.12L102.75 202.95L103.22 202.78L103.69 202.60L104.16 202.43L104.62 202.26L105.09 202.09L105.56 201.92L106.03 201.75L106.50 201.57L106.97 201.40L107.44 201.23L107.90 201.05L108.37 200.88L108.84 200.71L109.31 200.53L109.78 200.36L110.24 200.18L110.71 200.01L111.18 199.84L111.64 199.66L112.11 199.49L112.58 199.31L113.05 199.14L113.51 198.96L113.98 198.78L114.45 198.61L114.91 198.43L115.38 198.25L115.84 198.08L116.31 197.90L116.78 197.72L117.24 197.55L117.71 197.37L118.17 197.19L118.64 197.01L119.10 196.83L119.57 196.65L120.04 196.47L120.50 196.30L120.97 196.12L121.43 195.94L121.90 195.76L122.36 195.58L122.82 195.40L123.29 195.22L123.75 195.03L124.22 194.85L124.68 194.67L125.15 194.49L125.61 194.31L126.07 194.13L126.54 193.94L127.00 193.76L127.46 193.58L127.93 193.39L128.39 193.21L128.85 193.03L129.32 192.84L129.78 192.66L130.24 192.47L130.70 192.29L131.17 192.11L131.63 191.92L132.09 191.73L132.55 191.55L133.02 191.36L133.48 191.18L133.94 190.99L134.40 190.80L134.86 190.62L135.33 190.43L135.79 190.24L136.25 190.05L136.71 189.86L137.17 189.68L137.63 189.49L138.09 189.30L138.55 189.11L139.01 188.92L139.48 188.73L139.94 188.54L140.40 188.35L140.86 188.16L141.32 187.97L141.78 187.78L142.24 187.58L142.70 187.39L143.16 187.20L143.62 187.01L144.08 186.81L144.54 186.62L145.00 186.43L145.45 186.23L145.91 186.04L146.37 185.85L146.83 185.65L147.29 185.46L147.75 185.26L148.21 185.07L148.67 184.87L149.13 184.67L149.58 184.48L150.04 184.28L150.50 184.08L150.96 183.89L151.42 183.69L151.87 183.49L152.33 183.29L152.79 183.09L153.25 182.90L153.70 182.70L154.16 182.50L154.62 182.30L155.08 182.10L155.53 181.90L155.99 181.70L156.45 181.49L156.90 181.29L157.36 181.09L157.82 180.89L158.27 180.69L158.73 180.48L159.19 180.28L159.64 180.08L160.10 179.87L160.55 179.67L161.01 179.47L161.47 179.26L161.92 179.06L162.38 178.85L162.83 178.64L163.29 178.44L163.74 178.23L164.20 178.03L164.65 177.82L165.11 177.61L165.56 177.40L166.02 177.20L166.47 176.99L166.93 176.78L167.38 176.57L167.84 176.36L168.29 176.15L168.74 175.94L169.20 175.73L169.65 175.52L170.11 175.31L170.56 175.10L171.01 174.88L171.47 174.67L171.92 174.46L172.37 174.25L172.83 174.03L173.28 173.82L173.73 173.61L174.19 173.39L174.64 173.18L175.09 172.96L175.54 172.75L176.00 172.53L176.45 172.31L176.90 172.10L177.35 171.88L177.81 171.66L178.26 171.45L178.71 171.23L179.16 171.01L179.61 170.79L180.07 170.57L180.52 170.35L180.97 170.13L181.42 169.91L181.87 169.69L182.32 169.47L182.78 169.25L183.23 169.03L183.68 168.80L184.13 168.58L184.58 168.36L185.03 168.13L185.48 167.91L185.93 167.69L186.38 167.46L186.83 167.24L187.28 167.01L187.73 166.78L188.18 166.56L188.63 166.33L189.08 166.10L189.53 165.88L189.97 165.65L190.42 165.42L190.87 165.19L191.32 164.96L191.76 164.73L192.21 164.50L192.66 164.27L193.10 164.03L193.55 163.80L194.00 163.57L194.44 163.33L194.89 163.10L195.33 162.86L195.78 162.63L196.22 162.39L196.66 162.16L197.11 161.92L197.55 161.68L197.99 161.44L198.43 161.20L198.87 160.96L199.31 160.72L199.75 160.48L200.19 160.24L200.63 160.00L201.07 159.75L201.51 159.51L201.95 159.26L202.38 159.02L202.82 158.77L203.26 158.52L203.69 158.28L204.13 158.03L204.56 157.78L204.99 157.53L205.43 157.28L205.86 157.03L206.29 156.78L206.72 156.52L207.15 156.27L207.58 156.01L208.01 155.76L208.44 155.50L208.87 155.25L209.29 154.99L209.72 154.73L210.15 154.47L210.57 154.21L210.99 153.95L211.42 153.69L211.84 153.42L212.26 153.16L212.68 152.90L213.10 152.63L213.52 152.36L213.94 152.10L214.36 151.83L214.77 151.56L215.19 151.29L215.60 151.02L216.02 150.75L216.43 150.47L216.84 150.20L217.25 149.92L217.67 149.65L218.07 149.37L218.48 149.09L218.89 148.81L219.30 148.53L219.70 148.25L220.11 147.97L220.51 147.69L220.91 147.40L221.31 147.12L221.71 146.83L222.11 146.54L222.51 146.25L222.91 145.96L223.30 145.67L223.69 145.38L224.09 145.08L224.48 144.78L224.86 144.48L225.25 144.18L225.63 143.88L226.02 143.57L226.40 143.27L226.78 142.96L227.15 142.65L227.53 142.33L227.90 142.02L228.27 141.70L228.64 141.38L229.01 141.06L229.37 140.73L229.73 140.40L230.09 140.07L230.45 139.74L230.80 139.40L231.16 139.06L231.51 138.72L231.85 138.38L232.20 138.03L232.54 137.68L232.87 137.33L233.21 136.97L233.54 136.61L233.87 136.25L234.20 135.88L234.52 135.51L234.84 135.14L235.16 134.76L235.47 134.38L235.78 134.00L236.09 133.61L236.39 133.22L236.69 132.83L236.99 132.43L237.28 132.03L237.57 131.62L237.86 131.21L238.14 130.80L238.42 130.38L238.69 129.96L238.96 129.53L239.23 129.11L239.50 128.68L239.76 128.24L240.02 127.80L240.27 127.36L240.52 126.92L240.77 126.48L241.02 126.03L241.26 125.58L241.50 125.12L241.74 124.67L241.97 124.21L242.20 123.75L242.43 123.28L242.66 122.82L242.88 122.35L243.10 121.89L243.32 121.42L243.53 120.94L243.74 120.47L243.95 120.00L244.16 119.52L244.37 119.04L244.57 118.56L244.77 118.08L244.96 117.60L245.16 117.12L245.35 116.64L245.54 116.16L245.73 115.67L245.92 115.19L246.10 114.71L246.28 114.22L246.46 113.74L246.64 113.25L246.81 112.77L246.99 112.28L247.16 111.80L247.33 111.31L247.50 110.83L247.67 110.35L247.83 109.86L247.99 109.38L248.15 108.90L248.31 108.42L248.47 107.94L248.63 107.46L248.78 106.98L248.94 106.51L249.09 106.03L249.24 105.55L249.39 105.08L249.54 104.60L249.69 104.13L249.83 103.66L249.98 103.18L250.12 102.71L250.27 102.24L250.41 101.77L250.55 101.30L250.69 100.83L250.83 100.36L250.96 99.89L251.10 99.42L251.24 98.95L251.37 98.48L251.51 98.01L251.64 97.55L251.78 97.08L251.91 96.61L252.04 96.14L252.17 95.68L252.30 95.21L252.44 94.74L252.57 94.28L252.70 93.81L252.83 93.34L252.96 92.88L253.08 92.41L253.21 91.94L253.34 91.48L253.47 91.01L253.60 90.54L253.73 90.07L253.86 89.61L253.99 89.14L254.12 88.67L254.24 88.20L254.37 87.73L254.50 87.26L254.63 86.79L254.76 86.32L254.89 85.85L255.02 85.38L255.16 84.91L255.29 84.44L255.42 83.96L255.55 83.49L255.68 83.01L255.82 82.54L255.95 82.06L256.09 81.59L256.22 81.11L256.36 80.63L256.50 80.16L256.64 79.68L256.77 79.20L256.91 78.72L257.06 78.23L257.20 77.75L257.34 77.27L257.49 76.78L257.63 76.30L257.78 75.81L257.92 75.32L258.07 74.84L258.22 74.35L258.37 73.86L258.52 73.37L258.67 72.88L258.83 72.39L258.98 71.90L259.14 71.41L259.29 70.92L259.45 70.43L259.60 69.95L259.76 69.46L259.92 68.97L260.08 68.48L260.24 67.99L260.40 67.51L260.56 67.02L260.72 66.53L260.89 66.05L261.05 65.57L261.21 65.09L261.38 64.60L261.54 64.12L261.70 63.65L261.87 63.17L262.04 62.69L262.20 62.22L262.37 61.75L262.54 61.28L262.70 60.81L262.87 60.34L263.04 59.88L263.21 59.42L263.37 58.96L263.54 58.50L263.71 58.04L263.88 57.59L264.06 57.14L264.23 56.69L264.42 56.24L264.60 55.80L264.80 55.36L265.00 54.93L265.21 54.49L265.44 54.06L265.67 53.63L265.92 53.21L266.18 52.79L266.46 52.37L266.75 51.96L267.06 51.55L267.39 51.14L267.73 50.75L268.09 50.40L268.47 50.10L268.85 49.87L269.23 49.75L269.62 49.74L270.01 49.84L270.40 50.04L270.78 50.32L271.15 50.64L271.51 51.00L271.85 51.37L272.18 51.75L272.49 52.14L272.79 52.53L273.08 52.94L273.36 53.36L273.62 53.78L273.87 54.21L274.11 54.65L274.34 55.09L274.56 55.54L274.77 56.00L274.98 56.46L275.17 56.93L275.35 57.40L275.53 57.88L275.71 58.36L275.87 58.84L276.03 59.33L276.19 59.82L276.34 60.31L276.48 60.81L276.62 61.30L276.76 61.80L276.90 62.30L277.04 62.79L277.17 63.29L277.31 63.79L277.44 64.28L277.57 64.78L277.71 65.27L277.84 65.76L277.97 66.26L278.11 66.75L278.24 67.23L278.38 67.72L278.52 68.21L278.65 68.69L278.79 69.18L278.92 69.66L279.06 70.14L279.20 70.63L279.33 71.11L279.47 71.59L279.60 72.07L279.74 72.55L279.88 73.03L280.01 73.51L280.15 73.98L280.28 74.46L280.42 74.94L280.55 75.42L280.69 75.89L280.82 76.37L280.96 76.85L281.09 77.33L281.23 77.80L281.36 78.28L281.49 78.76L281.62 79.23L281.76 79.71L281.89 80.19L282.02 80.67L282.15 81.14L282.28 81.62L282.41 82.10L282.54 82.58L282.67 83.05L282.80 83.53L282.92 84.01L283.05 84.49L283.18 84.97L283.31 85.44L283.43 85.92L283.56 86.40L283.69 86.88L283.81 87.36L283.94 87.84L284.06 88.32L284.19 88.80L284.32 89.28L284.44 89.75L284.56 90.23L284.69 90.71L284.81 91.19L284.94 91.67L285.06 92.15L285.18 92.63L285.30 93.11L285.43 93.60L285.55 94.08L285.67 94.56L285.79 95.04L285.91 95.52L286.04 96.00L286.16 96.48L286.28 96.97L286.40 97.45L286.52 97.93L286.64 98.41L286.76 98.90L286.88 99.38L287.00 99.86L287.12 100.35L287.24 100.83L287.36 101.31L287.48 101.80L287.60 102.28L287.72 102.77L287.83 103.25L287.95 103.74L288.07 104.22L288.19 104.71L288.31 105.19L288.43 105.68L288.54 106.17L288.66 106.65L288.78 107.14L288.90 107.63L289.01 108.12L289.13 108.60L289.25 109.09L289.37 109.58L289.48 110.07L289.60 110.56L289.72 111.05L289.84 111.54L289.95 112.03L290.07 112.52L290.19 113.01L290.30 113.50L290.42 113.99L290.54 114.48L290.66 114.97L290.77 115.46L290.89 115.95L291.01 116.44L291.12 116.93L291.24 117.43L291.36 117.92L291.48 118.41L291.59 118.90L291.71 119.39L291.83 119.89L291.95 120.38L292.07 120.87L292.18 121.36L292.30 121.86L292.42 122.35L292.54 122.84L292.66 123.34L292.78 123.83L292.89 124.32L293.01 124.81L293.13 125.31L293.25 125.80L293.37 126.29L293.49 126.79L293.61 127.28L293.73 127.77L293.85 128.26L293.97 128.76L294.09 129.25L294.22 129.74L294.34 130.23L294.46 130.73L294.58 131.22L294.70 131.71L294.83 132.20L294.95 132.70L295.07 133.19L295.20 133.68L295.32 134.17L295.44 134.66L295.57 135.15L295.69 135.65L295.82 136.14L295.94 136.63L296.07 137.12L296.20 137.61L296.32 138.10L296.45 138.59L296.58 139.08L296.70 139.57L296.83 140.06L296.96 140.55L297.09 141.03L297.22 141.52L297.35 142.01L297.48 142.50L297.61 142.99L297.74 143.47L297.87 143.96L298.01 144.45L298.14 144.94L298.27 145.42L298.41 145.91L298.54 146.39L298.67 146.88L298.81 147.36L298.95 147.85L299.08 148.33L299.22 148.81L299.36 149.30L299.49 149.78L299.63 150.26L299.77 150.74L299.91 151.23L300.05 151.71L300.19 152.19L300.33 152.67L300.48 153.15L300.62 153.63L300.76 154.11L300.91 154.58L301.05 155.06L301.20 155.54L301.34 156.02L301.49 156.49L301.64 156.97L301.78 157.44L301.93 157.92L302.08 158.39L302.23 158.87L302.38 159.34L302.54 159.81L302.69 160.28L302.84 160.75L302.99 161.22L303.15 161.69L303.30 162.16L303.46 162.63L303.62 163.10L303.77 163.57L303.93 164.04L304.09 164.50L304.25 164.97L304.41 165.43L304.58 165.90L304.74 166.36L304.90 166.82L305.07 167.28L305.23 167.75L305.40 168.21L305.56 168.67L305.73 169.13L305.90 169.58L306.07 170.04L306.24 170.50L306.42 170.95L306.59 171.41L306.77 171.86L306.94 172.32L307.12 172.77L307.30 173.22L307.48 173.67L307.67 174.12L307.85 174.57L308.04 175.02L308.22 175.47L308.41 175.92L308.60 176.36L308.80 176.81L308.99 177.25L309.18 177.70L309.38 178.14L309.58 178.58L309.78 179.02L309.99 179.46L310.19 179.90L310.40 180.34L310.61 180.77L310.82 181.21L311.03 181.65L311.25 182.08L311.47 182.51L311.69 182.94L311.91 183.38L312.13 183.81L312.36 184.23L312.59 184.66L312.82 185.09L313.05 185.51L313.29 185.94L313.53 186.36L313.77 186.79L314.01 187.21L314.26 187.63L314.51 188.05L314.76 188.47L315.02 188.88L315.27 189.30L315.53 189.71L315.80 190.13L316.06 190.54L316.33 190.95L316.60 191.36L316.88 191.77L317.16 192.18L317.44 192.59L317.72 192.99L318.01 193.40L318.30 193.80L318.59 194.20L318.89 194.60L319.19 195.00L319.49 195.40L319.80 195.80L320.11 196.19L320.42 196.59L320.74 196.98L321.06 197.37L321.39 197.76L321.71 198.15L322.05 198.54L322.38 198.92L322.72 199.31L323.06 199.69L323.41 200.08L323.76 200.46L324.11 200.83L324.47 201.21L324.82 201.58L325.19 201.95L325.55 202.32L325.92 202.69L326.30 203.05L326.67 203.41L327.05 203.77L327.43 204.12L327.82 204.47L328.21 204.82L328.60 205.16L328.99 205.50L329.39 205.84L329.79 206.17L330.19 206.50L330.60 206.82L331.01 207.14L331.42 207.45L331.83 207.76L332.25 208.06L332.67 208.36L333.09 208.65L333.52 208.94L333.94 209.22L334.37 209.50L334.80 209.77L335.24 210.03L335.67 210.29L336.11 210.54L336.55 210.78L336.99 211.02L337.44 211.25L337.89 211.48L338.33 211.70L338.79 211.91L339.24 212.11L339.69 212.30L340.15 212.49L340.61 212.67L341.07 212.84L341.53 213.01L342.00 213.17L342.46 213.32L342.93 213.46L343.40 213.60L343.87 213.73L344.34 213.85L344.81 213.97L345.29 214.09L345.76 214.20L346.24 214.30L346.72 214.41L347.20 214.50L347.68 214.60L348.17 214.69L348.65 214.78L349.13 214.87L349.62 214.95L350.11 215.04L350.60 215.12L351.08 215.20L351.57 215.28L352.06 215.36L352.56 215.44L353.05 215.52L353.54 215.61L354.04 215.69L354.53 215.77L355.03 215.86L355.52 215.95L356.02 216.04L356.51 216.13L357.01 216.23L357.51 216.33L358.01 216.44L358.50 216.55L359.00 216.66L359.50 216.78L360.00 216.90" stroke="#0000ff" stroke-width="1.25" fill="none" stroke-linejoin="round"/>
<path transform="translate(43.48,251.80)" d="M2.56 -6.83L1.48 -6.50L0.76 -5.53L0.40 -3.90L0.40 -2.93L0.76 -1.30L1.48 -0.33L2.56 0.00L3.28 0.00L4.36 -0.33L5.08 -1.30L5.44 -2.93L5.44 -3.90L5.08 -5.53L4.36 -6.50L3.28 -6.83L2.56 -6.83" fill="none" stroke="#000" stroke-width="0.80" stroke-linecap="round" stroke-linejoin="round"/>
<path transform="translate(118.38,251.80)" d="M4.72 -6.83L1.12 -6.83L0.76 -3.90L1.12 -4.23L2.20 -4.55L3.28 -4.55L4.36 -4.23L5.08 -3.58L5.44 -2.60L5.44 -1.95L5.08 -0.98L4.36 -0.33L3.28 0.00L2.20 0.00L1.12 -0.33L0.76 -0.65L0.40 -1.30M9.76 -6.83L8.68 -6.50L7.96 -5.53L7.60 -3.90L7.60 -2.93L7.96 -1.30L8.68 -0.33L9.76 0.00L10.48 0.00L11.56 -0.33L12.28 -1.30L12.64 -2.93L12.64 -3.90L12.28 -5.53L11.56 -6.50L10.48 -6.83L9.76 -6.83" fill="none" stroke="#000" stroke-width="0.80" stroke-linecap="round" stroke-linejoin="round"/>
<path transform="translate(193.82,251.80)" d="M0.40 -5.53L1.12 -5.85L2.20 -6.83L2.20 0.00M8.68 -6.83L7.60 -6.50L6.88 -5.53L6.52 -3.90L6.52 -2.93L6.88 -1.30L7.60 -0.33L8.68 0.00L9.40 0.00L10.48 -0.33L11.20 -1.30L11.56 -2.93L11.56 -3.90L11.20 -5.53L10.48 -6.50L9.40 -6.83L8.68 -6.83M15.88 -6.83L14.80 -6.50L14.08 -5.53L13.72 -3.90L13.72 -2.93L14.08 -1.30L14.80 -0.33L15.88 0.00L16.60 0.00L17.68 -0.33L18.40 -1.30L18.76 -2.93L18.76 -3.90L18.40 -5.53L17.68 -6.50L16.60 -6.83L15.88 -6.83" fill="none" stroke="#000" stroke-width="0.80" stroke-linecap="round" stroke-linejoin="round"/>
<path transform="translate(272.32,251.80)" d="M0.40 -5.53L1.12 -5.85L2.20 -6.83L2.20 0.00M10.84 -6.83L7.24 -6.83L6.88 -3.90L7.24 -4.23L8.32 -4.55L9.40 -4.55L10.48 -4.23L11.20 -3.58L11.56 -2.60L11.56 -1.95L11.20 -0.98L10.48 -0.33L9.40 0.00L8.32 0.00L7.24 -0.33L6.88 -0.65L6.52 -1.30M15.88 -6.83L14.80 -6.50L14.08 -5.53L13.72 -3.90L13.72 -2.93L14.08 -1.30L14.80 -0.33L15.88 0.00L16.60 0.00L17.68 -0.33L18.40 -1.30L18.76 -2.93L18.76 -3.90L18.40 -5.53L17.68 -6.50L16.60 -6.83L15.88 -6.83" fill="none" stroke="#000" stroke-width="0.80" stroke-linecap="round" stroke-linejoin="round"/>
<path transform="translate(350.28,251.80)" d="M0.76 -5.20L0.76 -5.53L1.12 -6.17L1.48 -6.50L2.20 -6.83L3.64 -6.83L4.36 -6.50L4.72 -6.17L5.08 -5.53L5.08 -4.88L4.72 -4.23L4.00 -3.25L0.40 0.00L5.44 0.00M9.76 -6.83L8.68 -6.50L7.96 -5.53L7.60 -3.90L7.60 -2.93L7.96 -1.30L8.68 -0.33L9.76 0.00L10.48 0.00L11.56 -0.33L12.28 -1.30L12.64 -2.93L12.64 -3.90L12.28 -5.53L11.56 -6.50L10.48 -6.83L9.76 -6.83M16.96 -6.83L15.88 -6.50L15.16 -5.53L14.80 -3.90L14.80 -2.93L15.16 -1.30L15.88 -0.33L16.96 0.00L17.68 0.00L18.76 -0.33L19.48 -1.30L19.84 -2.93L19.84 -3.90L19.48 -5.53L18.76 -6.50L17.68 -6.83L16.96 -6.83" fill="none" stroke="#000" stroke-width="0.80" stroke-linecap="round" stroke-linejoin="round"/>
<path transform="translate(33.76,224.20)" d="M2.56 -6.83L1.48 -6.50L0.76 -5.53L0.40 -3.90L0.40 -2.93L0.76 -1.30L1.48 -0.33L2.56 0.00L3.28 0.00L4.36 -0.33L5.08 -1.30L5.44 -2.93L5.44 -3.90L5.08 -5.53L4.36 -6.50L3.28 -6.83L2.56 -6.83" fill="none" stroke="#000" stroke-width="0.80" stroke-linecap="round" stroke-linejoin="round"/>
<path transform="translate(26.56,157.25)" d="M4.72 -6.83L1.12 -6.83L0.76 -3.90L1.12 -4.23L2.20 -4.55L3.28 -4.55L4.36 -4.23L5.08 -3.58L5.44 -2.60L5.44 -1.95L5.08 -0.98L4.36 -0.33L3.28 0.00L2.20 0.00L1.12 -0.33L0.76 -0.65L0.40 -1.30M9.76 -6.83L8.68 -6.50L7.96 -5.53L7.60 -3.90L7.60 -2.93L7.96 -1.30L8.68 -0.33L9.76 0.00L10.48 0.00L11.56 -0.33L12.28 -1.30L12.64 -2.93L12.64 -3.90L12.28 -5.53L11.56 -6.50L10.48 -6.83L9.76 -6.83" fill="none" stroke="#000" stroke-width="0.80" stroke-linecap="round" stroke-linejoin="round"/>
<path transform="translate(20.44,90.30)" d="M0.40 -5.53L1.12 -5.85L2.20 -6.83L2.20 0.00M8.68 -6.83L7.60 -6.50L6.88 -5.53L6.52 -3.90L6.52 -2.93L6.88 -1.30L7.60 -0.33L8.68 0.00L9.40 0.00L10.48 -0.33L11.20 -1.30L11.56 -2.93L11.56 -3.90L11.20 -5.53L10.48 -6.50L9.40 -6.83L8.68 -6.83M15.88 -6.83L14.80 -6.50L14.08 -5.53L13.72 -3.90L13.72 -2.93L14.08 -1.30L14.80 -0.33L15.88 0.00L16.60 0.00L17.68 -0.33L18.40 -1.30L18.76 -2.93L18.76 -3.90L18.40 -5.53L17.68 -6.50L16.60 -6.83L15.88 -6.83" fill="none" stroke="#000" stroke-width="0.80" stroke-linecap="round" stroke-linejoin="round"/>
<path transform="translate(20.44,23.35)" d="M0.40 -5.53L1.12 -5.85L2.20 -6.83L2.20 0.00M10.84 -6.83L7.24 -6.83L6.88 -3.90L7.24 -4.23L8.32 -4.55L9.40 -4.55L10.48 -4.23L11.20 -3.58L11.56 -2.60L11.56 -1.95L11.20 -0.98L10.48 -0.33L9.40 0.00L8.32 0.00L7.24 -0.33L6.88 -0.65L6.52 -1.30M15.88 -6.83L14.80 -6.50L14.08 -5.53L13.72 -3.90L13.72 -2.93L14.08 -1.30L14.80 -0.33L15.88 0.00L16.60 0.00L17.68 -0.33L18.40 -1.30L18.76 -2.93L18.76 -3.90L18.40 -5.53L17.68 -6.50L16.60 -6.83L15.88 -6.83" fill="none" stroke="#000" stroke-width="0.80" stroke-linecap="round" stroke-linejoin="round"/>
<path transform="translate(164.90,266.96)" d="M1.34 -7.04L1.34 0.00M1.69 -7.04L1.69 0.00M0.29 -7.04L4.50 -7.04L5.56 -6.70L5.91 -6.37L6.26 -5.70L6.26 -5.03L5.91 -4.36L5.56 -4.02L4.50 -3.69L1.69 -3.69M4.50 -7.04L5.21 -6.70L5.56 -6.37L5.91 -5.70L5.91 -5.03L5.56 -4.36L5.21 -4.02L4.50 -3.69M0.29 0.00L2.75 0.00M3.45 -3.69L4.15 -3.35L4.50 -3.02L5.56 -0.67L5.91 -0.34L6.26 -0.34L6.61 -0.67M4.15 -3.35L4.50 -2.68L5.21 -0.34L5.56 0.00L6.26 0.00L6.61 -0.67L6.61 -1.01M9.07 -4.02L9.07 -3.69L8.72 -3.69L8.72 -4.02L9.07 -4.36L9.77 -4.69L11.17 -4.69L11.88 -4.36L12.23 -4.02L12.58 -3.35L12.58 -1.01L12.93 -0.34L13.28 0.00M12.23 -4.02L12.23 -1.01L12.58 -0.34L13.28 0.00L13.63 0.00M12.23 -3.35L11.88 -3.02L9.77 -2.68L8.72 -2.35L8.37 -1.68L8.37 -1.01L8.72 -0.34L9.77 0.00L10.82 0.00L11.53 -0.34L12.23 -1.01M9.77 -2.68L9.07 -2.35L8.72 -1.68L8.72 -1.01L9.07 -0.34L9.77 0.00M19.60 -7.04L19.60 0.00M19.95 -7.04L19.95 0.00M19.60 -3.69L18.90 -4.36L18.20 -4.69L17.49 -4.69L16.44 -4.36L15.74 -3.69L15.39 -2.68L15.39 -2.01L15.74 -1.01L16.44 -0.34L17.49 0.00L18.20 0.00L18.90 -0.34L19.60 -1.01M17.49 -4.69L16.79 -4.36L16.09 -3.69L15.74 -2.68L15.74 -2.01L16.09 -1.01L16.79 -0.34L17.49 0.00M18.55 -7.04L19.95 -7.04M19.60 0.00L21.01 0.00M23.46 -7.04L23.11 -6.70L23.46 -6.37L23.81 -6.70L23.46 -7.04M23.46 -4.69L23.46 0.00M23.81 -4.69L23.81 0.00M22.41 -4.69L23.81 -4.69M22.41 0.00L24.87 0.00M27.33 -4.69L27.33 -1.01L27.68 -0.34L28.73 0.00L29.43 0.00L30.49 -0.34L31.19 -1.01M27.68 -4.69L27.68 -1.01L28.03 -0.34L28.73 0.00M31.19 -4.69L31.19 0.00M31.54 -4.69L31.54 0.00M26.27 -4.69L27.68 -4.69M30.13 -4.69L31.54 -4.69M31.19 0.00L32.59 0.00M37.86 -4.02L38.21 -4.69L38.21 -3.35L37.86 -4.02L37.51 -4.36L36.81 -4.69L35.40 -4.69L34.70 -4.36L34.35 -4.02L34.35 -3.35L34.70 -3.02L35.40 -2.68L37.16 -2.01L37.86 -1.68L38.21 -1.34M34.35 -3.69L34.70 -3.35L35.40 -3.02L37.16 -2.35L37.86 -2.01L38.21 -1.68L38.21 -0.67L37.86 -0.34L37.16 0.00L35.75 0.00L35.05 -0.34L34.70 -0.67L34.35 -1.34L34.35 0.00L34.70 -0.67" fill="none" stroke="#000" stroke-width="0.58" stroke-linecap="round" stroke-linejoin="round"/>
<path transform="translate(210.50,266.96)" d="M2.79 -8.38L2.07 -7.71L1.36 -6.70L0.65 -5.36L0.29 -3.69L0.29 -2.35L0.65 -0.67L1.36 0.67L2.07 1.68L2.79 2.35M2.07 -7.71L1.36 -6.37L1.00 -5.36L0.65 -3.69L0.65 -2.35L1.00 -0.67L1.36 0.34L2.07 1.68M5.64 -7.04L5.64 0.00M6.00 -7.04L8.14 -1.01M5.64 -7.04L8.14 0.00M10.63 -7.04L8.14 0.00M10.63 -7.04L10.63 0.00M10.99 -7.04L10.99 0.00M4.57 -7.04L6.00 -7.04M10.63 -7.04L12.06 -7.04M4.57 0.00L6.71 0.00M9.56 0.00L12.06 0.00M14.56 -4.69L14.56 2.35M14.91 -4.69L14.91 2.35M14.91 -3.69L15.63 -4.36L16.34 -4.69L17.06 -4.69L18.13 -4.36L18.84 -3.69L19.20 -2.68L19.20 -2.01L18.84 -1.01L18.13 -0.34L17.06 0.00L16.34 0.00L15.63 -0.34L14.91 -1.01M17.06 -4.69L17.77 -4.36L18.48 -3.69L18.84 -2.68L18.84 -2.01L18.48 -1.01L17.77 -0.34L17.06 0.00M13.49 -4.69L14.91 -4.69M13.49 2.35L15.99 2.35M25.62 -3.69L25.26 -3.35L25.62 -3.02L25.97 -3.35L25.97 -3.69L25.26 -4.36L24.55 -4.69L23.48 -4.69L22.41 -4.36L21.69 -3.69L21.34 -2.68L21.34 -2.01L21.69 -1.01L22.41 -0.34L23.48 0.00L24.19 0.00L25.26 -0.34L25.97 -1.01M23.48 -4.69L22.76 -4.36L22.05 -3.69L21.69 -2.68L21.69 -2.01L22.05 -1.01L22.76 -0.34L23.48 0.00M28.11 -8.38L28.83 -7.71L29.54 -6.70L30.25 -5.36L30.61 -3.69L30.61 -2.35L30.25 -0.67L29.54 0.67L28.83 1.68L28.11 2.35M28.83 -7.71L29.54 -6.37L29.90 -5.36L30.25 -3.69L30.25 -2.35L29.90 -0.67L29.54 0.34L28.83 1.68" fill="none" stroke="#000" stroke-width="0.58" stroke-linecap="round" stroke-linejoin="round"/>
<path transform="translate(13.01,212.30) rotate(-90)" d="M1.32 -6.89L1.32 0.00M1.66 -6.89L3.71 -0.98M1.32 -6.89L3.71 0.00M6.11 -6.89L3.71 0.00M6.11 -6.89L6.11 0.00M6.45 -6.89L6.45 0.00M0.29 -6.89L1.66 -6.89M6.11 -6.89L7.48 -6.89M0.29 0.00L2.34 0.00M5.08 0.00L7.48 0.00M9.87 -3.94L9.87 -3.61L9.53 -3.61L9.53 -3.94L9.87 -4.26L10.55 -4.59L11.92 -4.59L12.61 -4.26L12.95 -3.94L13.29 -3.28L13.29 -0.98L13.63 -0.33L13.98 0.00M12.95 -3.94L12.95 -0.98L13.29 -0.33L13.98 0.00L14.32 0.00M12.95 -3.28L12.61 -2.95L10.55 -2.62L9.53 -2.30L9.19 -1.64L9.19 -0.98L9.53 -0.33L10.55 0.00L11.58 0.00L12.27 -0.33L12.95 -0.98M10.55 -2.62L9.87 -2.30L9.53 -1.64L9.53 -0.98L9.87 -0.33L10.55 0.00M19.45 -3.94L19.79 -4.59L19.79 -3.28L19.45 -3.94L19.11 -4.26L18.42 -4.59L17.06 -4.59L16.37 -4.26L16.03 -3.94L16.03 -3.28L16.37 -2.95L17.06 -2.62L18.77 -1.97L19.45 -1.64L19.79 -1.31M16.03 -3.61L16.37 -3.28L17.06 -2.95L18.77 -2.30L19.45 -1.97L19.79 -1.64L19.79 -0.66L19.45 -0.33L18.77 0.00L17.40 0.00L16.71 -0.33L16.37 -0.66L16.03 -1.31L16.03 0.00L16.37 -0.66M25.27 -3.94L25.61 -4.59L25.61 -3.28L25.27 -3.94L24.93 -4.26L24.24 -4.59L22.87 -4.59L22.19 -4.26L21.85 -3.94L21.85 -3.28L22.19 -2.95L22.87 -2.62L24.58 -1.97L25.27 -1.64L25.61 -1.31M21.85 -3.61L22.19 -3.28L22.87 -2.95L24.58 -2.30L25.27 -1.97L25.61 -1.64L25.61 -0.66L25.27 -0.33L24.58 0.00L23.21 0.00L22.53 -0.33L22.19 -0.66L21.85 -1.31L21.85 0.00L22.19 -0.66" fill="none" stroke="#000" stroke-width="0.58" stroke-linecap="round" stroke-linejoin="round"/>
<path transform="translate(13.01,179.40) rotate(-90)" d="M1.37 -6.89L1.37 0.00M1.73 -6.89L1.73 0.00M0.29 -6.89L4.60 -6.89L5.68 -6.56L6.04 -6.23L6.40 -5.58L6.40 -4.59L6.04 -3.94L5.68 -3.61L4.60 -3.28L1.73 -3.28M4.60 -6.89L5.32 -6.56L5.68 -6.23L6.04 -5.58L6.04 -4.59L5.68 -3.94L5.32 -3.61L4.60 -3.28M0.29 0.00L2.81 0.00M9.28 -4.59L9.28 0.00M9.64 -4.59L9.64 0.00M9.64 -2.62L10.00 -3.61L10.71 -4.26L11.43 -4.59L12.51 -4.59L12.87 -4.26L12.87 -3.94L12.51 -3.61L12.15 -3.94L12.51 -4.26M8.20 -4.59L9.64 -4.59M8.20 0.00L10.71 0.00M16.82 -4.59L15.75 -4.26L15.03 -3.61L14.67 -2.62L14.67 -1.97L15.03 -0.98L15.75 -0.33L16.82 0.00L17.54 0.00L18.62 -0.33L19.34 -0.98L19.70 -1.97L19.70 -2.62L19.34 -3.61L18.62 -4.26L17.54 -4.59L16.82 -4.59M16.82 -4.59L16.11 -4.26L15.39 -3.61L15.03 -2.62L15.03 -1.97L15.39 -0.98L16.11 -0.33L16.82 0.00M17.54 0.00L18.26 -0.33L18.98 -0.98L19.34 -1.97L19.34 -2.62L18.98 -3.61L18.26 -4.26L17.54 -4.59M24.37 -6.56L24.01 -6.23L24.37 -5.90L24.73 -6.23L24.73 -6.56L24.37 -6.89L23.65 -6.89L22.94 -6.56L22.58 -5.90L22.58 0.00M23.65 -6.89L23.29 -6.56L22.94 -5.90L22.94 0.00M21.50 -4.59L24.37 -4.59M21.50 0.00L24.01 0.00M27.25 -6.89L26.89 -6.56L27.25 -6.23L27.61 -6.56L27.25 -6.89M27.25 -4.59L27.25 0.00M27.61 -4.59L27.61 0.00M26.17 -4.59L27.61 -4.59M26.17 0.00L28.69 0.00M31.20 -6.89L31.20 0.00M31.56 -6.89L31.56 0.00M30.12 -6.89L31.56 -6.89M30.12 0.00L32.64 0.00M34.80 -2.62L39.11 -2.62L39.11 -3.28L38.75 -3.94L38.39 -4.26L37.67 -4.59L36.59 -4.59L35.52 -4.26L34.80 -3.61L34.44 -2.62L34.44 -1.97L34.80 -0.98L35.52 -0.33L36.59 0.00L37.31 0.00L38.39 -0.33L39.11 -0.98M38.75 -2.62L38.75 -3.61L38.39 -4.26M36.59 -4.59L35.88 -4.26L35.16 -3.61L34.80 -2.62L34.80 -1.97L35.16 -0.98L35.88 -0.33L36.59 0.00" fill="none" stroke="#000" stroke-width="0.58" stroke-linecap="round" stroke-linejoin="round"/>
<path transform="translate(13.01,134.30) rotate(-90)" d="M2.48 -4.59L1.39 -4.26L0.66 -3.61L0.29 -2.62L0.29 -1.97L0.66 -0.98L1.39 -0.33L2.48 0.00L3.21 0.00L4.31 -0.33L5.04 -0.98L5.40 -1.97L5.40 -2.62L5.04 -3.61L4.31 -4.26L3.21 -4.59L2.48 -4.59M2.48 -4.59L1.75 -4.26L1.02 -3.61L0.66 -2.62L0.66 -1.97L1.02 -0.98L1.75 -0.33L2.48 0.00M3.21 0.00L3.94 -0.33L4.67 -0.98L5.04 -1.97L5.04 -2.62L4.67 -3.61L3.94 -4.26L3.21 -4.59M10.15 -6.56L9.78 -6.23L10.15 -5.90L10.51 -6.23L10.51 -6.56L10.15 -6.89L9.42 -6.89L8.69 -6.56L8.32 -5.90L8.32 0.00M9.42 -6.89L9.05 -6.56L8.69 -5.90L8.69 0.00M7.23 -4.59L10.15 -4.59M7.23 0.00L9.78 0.00" fill="none" stroke="#000" stroke-width="0.58" stroke-linecap="round" stroke-linejoin="round"/>
<path transform="translate(13.01,117.60) rotate(-90)" d="M1.34 -6.89L1.34 0.00M1.68 -6.89L1.68 0.00M0.29 -6.89L4.47 -6.89L5.52 -6.56L5.87 -6.23L6.21 -5.58L6.21 -4.59L5.87 -3.94L5.52 -3.61L4.47 -3.28L1.68 -3.28M4.47 -6.89L5.17 -6.56L5.52 -6.23L5.87 -5.58L5.87 -4.59L5.52 -3.94L5.17 -3.61L4.47 -3.28M0.29 0.00L2.73 0.00M8.65 -2.62L12.84 -2.62L12.84 -3.28L12.49 -3.94L12.14 -4.26L11.44 -4.59L10.40 -4.59L9.35 -4.26L8.65 -3.61L8.31 -2.62L8.31 -1.97L8.65 -0.98L9.35 -0.33L10.40 0.00L11.09 0.00L12.14 -0.33L12.84 -0.98M12.49 -2.62L12.49 -3.61L12.14 -4.26M10.40 -4.59L9.70 -4.26L9.00 -3.61L8.65 -2.62L8.65 -1.97L9.00 -0.98L9.70 -0.33L10.40 0.00M15.62 -4.59L15.62 0.00M15.97 -4.59L15.97 0.00M15.97 -2.62L16.32 -3.61L17.02 -4.26L17.71 -4.59L18.76 -4.59L19.11 -4.26L19.11 -3.94L18.76 -3.61L18.41 -3.94L18.76 -4.26M14.58 -4.59L15.97 -4.59M14.58 0.00L17.02 0.00M21.55 -6.89L21.55 -1.31L21.90 -0.33L22.59 0.00L23.29 0.00L23.99 -0.33L24.34 -0.98M21.90 -6.89L21.90 -1.31L22.24 -0.33L22.59 0.00M20.50 -4.59L23.29 -4.59M26.77 -4.59L26.77 -0.98L27.12 -0.33L28.17 0.00L28.87 0.00L29.91 -0.33L30.61 -0.98M27.12 -4.59L27.12 -0.98L27.47 -0.33L28.17 0.00M30.61 -4.59L30.61 0.00M30.96 -4.59L30.96 0.00M25.73 -4.59L27.12 -4.59M29.56 -4.59L30.96 -4.59M30.61 0.00L32.00 0.00M34.44 -4.59L34.44 0.00M34.79 -4.59L34.79 0.00M34.79 -2.62L35.14 -3.61L35.83 -4.26L36.53 -4.59L37.58 -4.59L37.93 -4.26L37.93 -3.94L37.58 -3.61L37.23 -3.94L37.58 -4.26M33.40 -4.59L34.79 -4.59M33.40 0.00L35.83 0.00M40.37 -6.89L40.37 0.00M40.71 -6.89L40.71 0.00M40.71 -3.61L41.41 -4.26L42.11 -4.59L42.80 -4.59L43.85 -4.26L44.55 -3.61L44.90 -2.62L44.90 -1.97L44.55 -0.98L43.85 -0.33L42.80 0.00L42.11 0.00L41.41 -0.33L40.71 -0.98M42.80 -4.59L43.50 -4.26L44.20 -3.61L44.55 -2.62L44.55 -1.97L44.20 -0.98L43.50 -0.33L42.80 0.00M39.32 -6.89L40.71 -6.89M47.68 -3.94L47.68 -3.61L47.33 -3.61L47.33 -3.94L47.68 -4.26L48.38 -4.59L49.77 -4.59L50.47 -4.26L50.82 -3.94L51.17 -3.28L51.17 -0.98L51.52 -0.33L51.86 0.00M50.82 -3.94L50.82 -0.98L51.17 -0.33L51.86 0.00L52.21 0.00M50.82 -3.28L50.47 -2.95L48.38 -2.62L47.33 -2.30L46.99 -1.64L46.99 -0.98L47.33 -0.33L48.38 0.00L49.43 0.00L50.12 -0.33L50.82 -0.98M48.38 -2.62L47.68 -2.30L47.33 -1.64L47.33 -0.98L47.68 -0.33L48.38 0.00M54.65 -6.89L54.65 -1.31L55.00 -0.33L55.70 0.00L56.40 0.00L57.09 -0.33L57.44 -0.98M55.00 -6.89L55.00 -1.31L55.35 -0.33L55.70 0.00M53.61 -4.59L56.40 -4.59M59.88 -6.89L59.53 -6.56L59.88 -6.23L60.23 -6.56L59.88 -6.89M59.88 -4.59L59.88 0.00M60.23 -4.59L60.23 0.00M58.83 -4.59L60.23 -4.59M58.83 0.00L61.27 0.00M65.11 -4.59L64.06 -4.26L63.36 -3.61L63.02 -2.62L63.02 -1.97L63.36 -0.98L64.06 -0.33L65.11 0.00L65.80 0.00L66.85 -0.33L67.55 -0.98L67.89 -1.97L67.89 -2.62L67.55 -3.61L66.85 -4.26L65.80 -4.59L65.11 -4.59M65.11 -4.59L64.41 -4.26L63.71 -3.61L63.36 -2.62L63.36 -1.97L63.71 -0.98L64.41 -0.33L65.11 0.00M65.80 0.00L66.50 -0.33L67.20 -0.98L67.55 -1.97L67.55 -2.62L67.20 -3.61L66.50 -4.26L65.80 -4.59M70.68 -4.59L70.68 0.00M71.03 -4.59L71.03 0.00M71.03 -3.61L71.73 -4.26L72.77 -4.59L73.47 -4.59L74.52 -4.26L74.86 -3.61L74.86 0.00M73.47 -4.59L74.17 -4.26L74.52 -3.61L74.52 0.00M69.64 -4.59L71.03 -4.59M69.64 0.00L72.08 0.00M73.47 0.00L75.91 0.00" fill="none" stroke="#000" stroke-width="0.58" stroke-linecap="round" stroke-linejoin="round"/>
<path transform="translate(58.00,32.51)" d="M1.33 -6.55L1.33 0.00M1.68 -6.55L1.68 0.00M0.29 -6.55L3.77 -6.55L4.81 -6.24L5.50 -5.62L5.85 -4.99L6.20 -4.06L6.20 -2.50L5.85 -1.56L5.50 -0.94L4.81 -0.31L3.77 0.00L0.29 0.00M3.77 -6.55L4.46 -6.24L5.16 -5.62L5.50 -4.99L5.85 -4.06L5.85 -2.50L5.50 -1.56L5.16 -0.94L4.46 -0.31L3.77 0.00M8.98 -3.74L8.98 -3.43L8.63 -3.43L8.63 -3.74L8.98 -4.06L9.68 -4.37L11.07 -4.37L11.76 -4.06L12.11 -3.74L12.46 -3.12L12.46 -0.94L12.80 -0.31L13.15 0.00M12.11 -3.74L12.11 -0.94L12.46 -0.31L13.15 0.00L13.50 0.00M12.11 -3.12L11.76 -2.81L9.68 -2.50L8.63 -2.18L8.29 -1.56L8.29 -0.94L8.63 -0.31L9.68 0.00L10.72 0.00L11.41 -0.31L12.11 -0.94M9.68 -2.50L8.98 -2.18L8.63 -1.56L8.63 -0.94L8.98 -0.31L9.68 0.00M15.93 -4.37L15.93 0.00M16.28 -4.37L16.28 0.00M16.28 -2.50L16.63 -3.43L17.32 -4.06L18.02 -4.37L19.06 -4.37L19.41 -4.06L19.41 -3.74L19.06 -3.43L18.71 -3.74L19.06 -4.06M14.89 -4.37L16.28 -4.37M14.89 0.00L17.32 0.00M21.84 -6.55L21.84 0.00M22.19 -6.55L22.19 0.00M25.67 -4.37L22.19 -1.25M23.93 -2.50L26.01 0.00M23.58 -2.50L25.67 0.00M20.80 -6.55L22.19 -6.55M24.62 -4.37L26.71 -4.37M20.80 0.00L23.23 0.00M24.62 0.00L26.71 0.00" fill="none" stroke="#000" stroke-width="0.58" stroke-linecap="round" stroke-linejoin="round"/>
<path transform="translate(91.60,32.51)" d="M1.35 -6.55L1.35 0.00M1.70 -6.55L3.82 -0.94M1.35 -6.55L3.82 0.00M6.29 -6.55L3.82 0.00M6.29 -6.55L6.29 0.00M6.65 -6.55L6.65 0.00M0.29 -6.55L1.70 -6.55M6.29 -6.55L7.71 -6.55M0.29 0.00L2.41 0.00M5.24 0.00L7.71 0.00M10.18 -3.74L10.18 -3.43L9.83 -3.43L9.83 -3.74L10.18 -4.06L10.89 -4.37L12.30 -4.37L13.01 -4.06L13.36 -3.74L13.71 -3.12L13.71 -0.94L14.07 -0.31L14.42 0.00M13.36 -3.74L13.36 -0.94L13.71 -0.31L14.42 0.00L14.77 0.00M13.36 -3.12L13.01 -2.81L10.89 -2.50L9.83 -2.18L9.47 -1.56L9.47 -0.94L9.83 -0.31L10.89 0.00L11.95 0.00L12.65 -0.31L13.36 -0.94M10.89 -2.50L10.18 -2.18L9.83 -1.56L9.83 -0.94L10.18 -0.31L10.89 0.00M17.24 -6.55L17.24 -1.25L17.60 -0.31L18.30 0.00L19.01 0.00L19.72 -0.31L20.07 -0.94M17.60 -6.55L17.60 -1.25L17.95 -0.31L18.30 0.00M16.18 -4.37L19.01 -4.37M22.54 -6.55L22.54 -1.25L22.90 -0.31L23.60 0.00L24.31 0.00L25.02 -0.31L25.37 -0.94M22.90 -6.55L22.90 -1.25L23.25 -0.31L23.60 0.00M21.48 -4.37L24.31 -4.37M27.49 -2.50L31.73 -2.50L31.73 -3.12L31.37 -3.74L31.02 -4.06L30.31 -4.37L29.25 -4.37L28.19 -4.06L27.49 -3.43L27.13 -2.50L27.13 -1.87L27.49 -0.94L28.19 -0.31L29.25 0.00L29.96 0.00L31.02 -0.31L31.73 -0.94M31.37 -2.50L31.37 -3.43L31.02 -4.06M29.25 -4.37L28.55 -4.06L27.84 -3.43L27.49 -2.50L27.49 -1.87L27.84 -0.94L28.55 -0.31L29.25 0.00M34.55 -4.37L34.55 0.00M34.91 -4.37L34.91 0.00M34.91 -2.50L35.26 -3.43L35.96 -4.06L36.67 -4.37L37.73 -4.37L38.08 -4.06L38.08 -3.74L37.73 -3.43L37.38 -3.74L37.73 -4.06M33.49 -4.37L34.91 -4.37M33.49 0.00L35.96 0.00M40.56 0.00L40.20 -0.31L40.56 -0.62L40.91 -0.31L40.91 0.31L40.56 0.94L40.20 1.25" fill="none" stroke="#000" stroke-width="0.58" stroke-linecap="round" stroke-linejoin="round"/>
<path transform="translate(139.60,32.51)" d="M5.38 -5.62L5.75 -4.68L5.75 -6.55L5.38 -5.62L4.66 -6.24L3.56 -6.55L2.84 -6.55L1.75 -6.24L1.02 -5.62L0.65 -4.99L0.29 -4.06L0.29 -2.50L0.65 -1.56L1.02 -0.94L1.75 -0.31L2.84 0.00L3.56 0.00L4.66 -0.31L5.38 -0.94M2.84 -6.55L2.11 -6.24L1.38 -5.62L1.02 -4.99L0.65 -4.06L0.65 -2.50L1.02 -1.56L1.38 -0.94L2.11 -0.31L2.84 0.00M5.38 -2.50L5.38 0.00M5.75 -2.50L5.75 0.00M4.29 -2.50L6.84 -2.50M9.39 -3.74L9.39 -3.43L9.02 -3.43L9.02 -3.74L9.39 -4.06L10.11 -4.37L11.57 -4.37L12.30 -4.06L12.66 -3.74L13.02 -3.12L13.02 -0.94L13.39 -0.31L13.75 0.00M12.66 -3.74L12.66 -0.94L13.02 -0.31L13.75 0.00L14.11 0.00M12.66 -3.12L12.30 -2.81L10.11 -2.50L9.02 -2.18L8.66 -1.56L8.66 -0.94L9.02 -0.31L10.11 0.00L11.20 0.00L11.93 -0.31L12.66 -0.94M10.11 -2.50L9.39 -2.18L9.02 -1.56L9.02 -0.94L9.39 -0.31L10.11 0.00M19.57 -3.74L19.94 -4.37L19.94 -3.12L19.57 -3.74L19.21 -4.06L18.48 -4.37L17.03 -4.37L16.30 -4.06L15.93 -3.74L15.93 -3.12L16.30 -2.81L17.03 -2.50L18.84 -1.87L19.57 -1.56L19.94 -1.25M15.93 -3.43L16.30 -3.12L17.03 -2.81L18.84 -2.18L19.57 -1.87L19.94 -1.56L19.94 -0.62L19.57 -0.31L18.84 0.00L17.39 0.00L16.66 -0.31L16.30 -0.62L15.93 -1.25L15.93 0.00L16.30 -0.62M22.85 0.00L22.48 -0.31L22.85 -0.62L23.21 -0.31L23.21 0.31L22.85 0.94L22.48 1.25" fill="none" stroke="#0000ff" stroke-width="0.58" stroke-linecap="round" stroke-linejoin="round"/>
<path transform="translate(170.00,32.51)" d="M1.34 -6.55L1.34 0.00M1.69 -6.55L1.69 0.00M0.29 -6.55L4.50 -6.55L5.55 -6.24L5.91 -5.93L6.26 -5.30L6.26 -4.37L5.91 -3.74L5.55 -3.43L4.50 -3.12L1.69 -3.12M4.50 -6.55L5.20 -6.24L5.55 -5.93L5.91 -5.30L5.91 -4.37L5.55 -3.74L5.20 -3.43L4.50 -3.12M0.29 0.00L2.75 0.00M9.06 -6.55L9.06 0.00M9.41 -6.55L9.41 0.00M9.41 -3.43L10.12 -4.06L11.17 -4.37L11.87 -4.37L12.92 -4.06L13.28 -3.43L13.28 0.00M11.87 -4.37L12.57 -4.06L12.92 -3.43L12.92 0.00M8.01 -6.55L9.41 -6.55M8.01 0.00L10.47 0.00M11.87 0.00L14.33 0.00M18.19 -4.37L17.14 -4.06L16.43 -3.43L16.08 -2.50L16.08 -1.87L16.43 -0.94L17.14 -0.31L18.19 0.00L18.89 0.00L19.94 -0.31L20.65 -0.94L21.00 -1.87L21.00 -2.50L20.65 -3.43L19.94 -4.06L18.89 -4.37L18.19 -4.37M18.19 -4.37L17.49 -4.06L16.79 -3.43L16.43 -2.50L16.43 -1.87L16.79 -0.94L17.49 -0.31L18.19 0.00M18.89 0.00L19.59 -0.31L20.29 -0.94L20.65 -1.87L20.65 -2.50L20.29 -3.43L19.59 -4.06L18.89 -4.37M23.80 -6.55L23.80 -1.25L24.16 -0.31L24.86 0.00L25.56 0.00L26.26 -0.31L26.61 -0.94M24.16 -6.55L24.16 -1.25L24.51 -0.31L24.86 0.00M22.75 -4.37L25.56 -4.37M30.47 -4.37L29.42 -4.06L28.72 -3.43L28.37 -2.50L28.37 -1.87L28.72 -0.94L29.42 -0.31L30.47 0.00L31.17 0.00L32.23 -0.31L32.93 -0.94L33.28 -1.87L33.28 -2.50L32.93 -3.43L32.23 -4.06L31.17 -4.37L30.47 -4.37M30.47 -4.37L29.77 -4.06L29.07 -3.43L28.72 -2.50L28.72 -1.87L29.07 -0.94L29.77 -0.31L30.47 0.00M31.17 0.00L31.88 -0.31L32.58 -0.94L32.93 -1.87L32.93 -2.50L32.58 -3.43L31.88 -4.06L31.17 -4.37M36.09 -4.37L36.09 0.00M36.44 -4.37L36.44 0.00M36.44 -3.43L37.14 -4.06L38.19 -4.37L38.90 -4.37L39.95 -4.06L40.30 -3.43L40.30 0.00M38.90 -4.37L39.60 -4.06L39.95 -3.43L39.95 0.00M35.04 -4.37L36.44 -4.37M35.04 0.00L37.49 0.00M38.90 0.00L41.35 0.00M43.81 0.00L43.46 -0.31L43.81 -0.62L44.16 -0.31L44.16 0.31L43.81 0.94L43.46 1.25" fill="none" stroke="#ff0000" stroke-width="0.58" stroke-linecap="round" stroke-linejoin="round"/>
<path transform="translate(221.60,32.51)" d="M1.35 -6.55L1.35 0.00M1.70 -6.55L5.93 -0.62M1.70 -5.93L5.93 0.00M5.93 -6.55L5.93 0.00M0.29 -6.55L1.70 -6.55M4.87 -6.55L6.99 -6.55M0.29 0.00L2.41 0.00M9.10 -2.50L13.34 -2.50L13.34 -3.12L12.98 -3.74L12.63 -4.06L11.92 -4.37L10.87 -4.37L9.81 -4.06L9.10 -3.43L8.75 -2.50L8.75 -1.87L9.10 -0.94L9.81 -0.31L10.87 0.00L11.57 0.00L12.63 -0.31L13.34 -0.94M12.98 -2.50L12.98 -3.43L12.63 -4.06M10.87 -4.37L10.16 -4.06L9.46 -3.43L9.10 -2.50L9.10 -1.87L9.46 -0.94L10.16 -0.31L10.87 0.00M16.16 -4.37L16.16 -0.94L16.51 -0.31L17.57 0.00L18.27 0.00L19.33 -0.31L20.03 -0.94M16.51 -4.37L16.51 -0.94L16.86 -0.31L17.57 0.00M20.03 -4.37L20.03 0.00M20.39 -4.37L20.39 0.00M15.10 -4.37L16.51 -4.37M18.98 -4.37L20.39 -4.37M20.03 0.00L21.44 0.00M23.91 -6.55L23.91 -1.25L24.26 -0.31L24.97 0.00L25.67 0.00L26.38 -0.31L26.73 -0.94M24.26 -6.55L24.26 -1.25L24.62 -0.31L24.97 0.00M22.85 -4.37L25.67 -4.37M29.20 -4.37L29.20 0.00M29.55 -4.37L29.55 0.00M29.55 -2.50L29.91 -3.43L30.61 -4.06L31.32 -4.37L32.37 -4.37L32.73 -4.06L32.73 -3.74L32.37 -3.43L32.02 -3.74L32.37 -4.06M28.14 -4.37L29.55 -4.37M28.14 0.00L30.61 0.00M35.19 -6.55L34.84 -6.24L35.19 -5.93L35.55 -6.24L35.19 -6.55M35.19 -4.37L35.19 0.00M35.55 -4.37L35.55 0.00M34.14 -4.37L35.55 -4.37M34.14 0.00L36.60 0.00M39.07 -4.37L39.07 0.00M39.43 -4.37L39.43 0.00M39.43 -3.43L40.13 -4.06L41.19 -4.37L41.89 -4.37L42.95 -4.06L43.30 -3.43L43.30 0.00M41.89 -4.37L42.60 -4.06L42.95 -3.43L42.95 0.00M38.01 -4.37L39.43 -4.37M38.01 0.00L40.48 0.00M41.89 0.00L44.36 0.00M48.24 -4.37L47.18 -4.06L46.48 -3.43L46.12 -2.50L46.12 -1.87L46.48 -0.94L47.18 -0.31L48.24 0.00L48.94 0.00L50.00 -0.31L50.71 -0.94L51.06 -1.87L51.06 -2.50L50.71 -3.43L50.00 -4.06L48.94 -4.37L48.24 -4.37M48.24 -4.37L47.53 -4.06L46.83 -3.43L46.48 -2.50L46.48 -1.87L46.83 -0.94L47.53 -0.31L48.24 0.00M48.94 0.00L49.65 -0.31L50.35 -0.94L50.71 -1.87L50.71 -2.50L50.35 -3.43L49.65 -4.06L48.94 -4.37" fill="none" stroke="#00ee00" stroke-width="0.58" stroke-linecap="round" stroke-linejoin="round"/>
<path transform="translate(287.80,34.41)" d="M2.40 -7.10L1.35 -6.76L0.64 -5.75L0.29 -4.06L0.29 -3.04L0.64 -1.35L1.35 -0.34L2.40 0.00L3.10 0.00L4.16 -0.34L4.86 -1.35L5.22 -3.04L5.22 -4.06L4.86 -5.75L4.16 -6.76L3.10 -7.10L2.40 -7.10M2.40 -7.10L1.70 -6.76L1.35 -6.42L0.99 -5.75L0.64 -4.06L0.64 -3.04L0.99 -1.35L1.35 -0.68L1.70 -0.34L2.40 0.00M3.10 0.00L3.81 -0.34L4.16 -0.68L4.51 -1.35L4.86 -3.04L4.86 -4.06L4.51 -5.75L4.16 -6.42L3.81 -6.76L3.10 -7.10M8.03 -0.68L7.68 -0.34L8.03 0.00L8.38 -0.34L8.03 -0.68M11.55 -7.10L10.85 -3.72M10.85 -3.72L11.55 -4.39L12.61 -4.73L13.66 -4.73L14.72 -4.39L15.42 -3.72L15.77 -2.70L15.77 -2.03L15.42 -1.01L14.72 -0.34L13.66 0.00L12.61 0.00L11.55 -0.34L11.20 -0.68L10.85 -1.35L10.85 -1.69L11.20 -2.03L11.55 -1.69L11.20 -1.35M13.66 -4.73L14.36 -4.39L15.07 -3.72L15.42 -2.70L15.42 -2.03L15.07 -1.01L14.36 -0.34L13.66 0.00M11.55 -7.10L15.07 -7.10M11.55 -6.76L13.31 -6.76L15.07 -7.10M17.88 -7.10L17.88 -5.07M17.88 -5.75L18.24 -6.42L18.94 -7.10L19.64 -7.10L21.40 -6.08L22.11 -6.08L22.46 -6.42L22.81 -7.10M18.24 -6.42L18.94 -6.76L19.64 -6.76L21.40 -6.08M22.81 -7.10L22.81 -6.08L22.46 -5.07L21.05 -3.38L20.70 -2.70L20.35 -1.69L20.35 0.00M22.46 -5.07L20.70 -3.38L20.35 -2.70L19.99 -1.69L19.99 0.00" fill="none" stroke="#000" stroke-width="0.58" stroke-linecap="round" stroke-linejoin="round"/>
<path transform="translate(317.30,34.41)" d="M1.36 -7.10L1.36 0.00M1.72 -7.10L3.87 -1.01M1.36 -7.10L3.87 0.00M6.37 -7.10L3.87 0.00M6.37 -7.10L6.37 0.00M6.73 -7.10L6.73 0.00M0.29 -7.10L1.72 -7.10M6.37 -7.10L7.80 -7.10M0.29 0.00L2.44 0.00M5.30 0.00L7.80 0.00M9.95 -4.73L12.10 0.00M10.31 -4.73L12.10 -0.68M14.24 -4.73L12.10 0.00L11.38 1.35L10.67 2.03L9.95 2.37L9.59 2.37L9.24 2.03L9.59 1.69L9.95 2.03M9.24 -4.73L11.38 -4.73M12.81 -4.73L14.96 -4.73M17.11 -4.73L17.11 0.00M17.46 -4.73L17.46 0.00M17.46 -2.70L17.82 -3.72L18.54 -4.39L19.25 -4.73L20.33 -4.73L20.69 -4.39L20.69 -4.06L20.33 -3.72L19.97 -4.06L20.33 -4.39M16.03 -4.73L17.46 -4.73M16.03 0.00L18.54 0.00M26.05 -4.06L26.41 -4.73L26.41 -3.38L26.05 -4.06L25.69 -4.39L24.98 -4.73L23.55 -4.73L22.83 -4.39L22.47 -4.06L22.47 -3.38L22.83 -3.04L23.55 -2.70L25.34 -2.03L26.05 -1.69L26.41 -1.35M22.47 -3.72L22.83 -3.38L23.55 -3.04L25.34 -2.37L26.05 -2.03L26.41 -1.69L26.41 -0.68L26.05 -0.34L25.34 0.00L23.91 0.00L23.19 -0.34L22.83 -0.68L22.47 -1.35L22.47 0.00L22.83 -0.68" fill="none" stroke="#000" stroke-width="0.58" stroke-linecap="round" stroke-linejoin="round"/>
<path transform="translate(308.35,50.01)" d="M4.22 -4.73L0.29 0.00M4.58 -4.73L0.65 0.00M0.65 -4.73L0.29 -3.38L0.29 -4.73L4.58 -4.73M0.29 0.00L4.58 0.00L4.58 -1.35L4.22 0.00M7.08 -4.06L13.52 -4.06M7.08 -2.03L13.52 -2.03M17.81 -7.10L16.74 -6.76L16.38 -6.08L16.38 -5.07L16.74 -4.39L17.81 -4.06L19.24 -4.06L20.31 -4.39L20.67 -5.07L20.67 -6.08L20.31 -6.76L19.24 -7.10L17.81 -7.10M17.81 -7.10L17.09 -6.76L16.74 -6.08L16.74 -5.07L17.09 -4.39L17.81 -4.06M19.24 -4.06L19.96 -4.39L20.31 -5.07L20.31 -6.08L19.96 -6.76L19.24 -7.10M17.81 -4.06L16.74 -3.72L16.38 -3.38L16.02 -2.70L16.02 -1.35L16.38 -0.68L16.74 -0.34L17.81 0.00L19.24 0.00L20.31 -0.34L20.67 -0.68L21.03 -1.35L21.03 -2.70L20.67 -3.38L20.31 -3.72L19.24 -4.06M17.81 -4.06L17.09 -3.72L16.74 -3.38L16.38 -2.70L16.38 -1.35L16.74 -0.68L17.09 -0.34L17.81 0.00M19.24 0.00L19.96 -0.34L20.31 -0.68L20.67 -1.35L20.67 -2.70L20.31 -3.38L19.96 -3.72L19.24 -4.06M26.39 -6.42L26.39 0.00M26.75 -7.10L26.75 0.00M26.75 -7.10L22.82 -2.03L28.54 -2.03M25.32 0.00L27.82 0.00M32.11 -7.10L31.04 -6.76L30.68 -6.08L30.68 -5.07L31.04 -4.39L32.11 -4.06L33.54 -4.06L34.61 -4.39L34.97 -5.07L34.97 -6.08L34.61 -6.76L33.54 -7.10L32.11 -7.10M32.11 -7.10L31.40 -6.76L31.04 -6.08L31.04 -5.07L31.40 -4.39L32.11 -4.06M33.54 -4.06L34.26 -4.39L34.61 -5.07L34.61 -6.08L34.26 -6.76L33.54 -7.10M32.11 -4.06L31.04 -3.72L30.68 -3.38L30.32 -2.70L30.32 -1.35L30.68 -0.68L31.04 -0.34L32.11 0.00L33.54 0.00L34.61 -0.34L34.97 -0.68L35.33 -1.35L35.33 -2.70L34.97 -3.38L34.61 -3.72L33.54 -4.06M32.11 -4.06L31.40 -3.72L31.04 -3.38L30.68 -2.70L30.68 -1.35L31.04 -0.68L31.40 -0.34L32.11 0.00M33.54 0.00L34.26 -0.34L34.61 -0.68L34.97 -1.35L34.97 -2.70L34.61 -3.38L34.26 -3.72L33.54 -4.06" fill="none" stroke="#000" stroke-width="0.58" stroke-linecap="round" stroke-linejoin="round"/>
</svg></body></html>
